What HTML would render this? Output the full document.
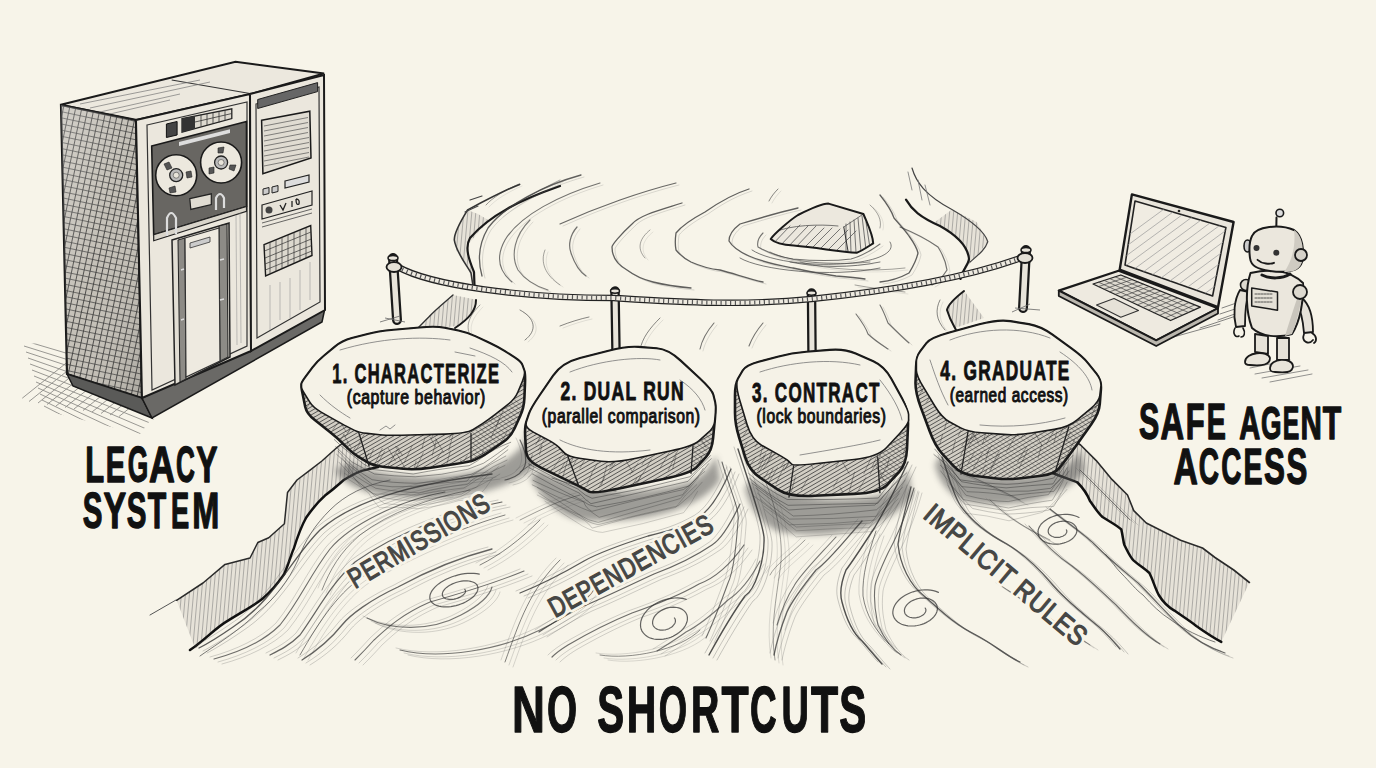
<!DOCTYPE html>
<html><head><meta charset="utf-8">
<style>
html,body{margin:0;padding:0;background:#f7f4e9;width:1376px;height:768px;overflow:hidden}
svg{display:block}
.t{font-family:"Liberation Sans",sans-serif;font-weight:bold;fill:#111;stroke:#111;stroke-width:1.2;stroke-linejoin:round}
.s{font-family:"Liberation Sans",sans-serif;font-weight:bold;fill:#111;stroke:#111;stroke-width:0.9;stroke-linejoin:round}
.s2{font-family:"Liberation Sans",sans-serif;font-weight:normal;fill:#111;stroke:#111;stroke-width:1.0;stroke-linejoin:round}
.ln{fill:none;stroke:#222;stroke-linecap:round;stroke-linejoin:round}
</style></head><body>
<svg width="1376" height="768" viewBox="0 0 1376 768">
<defs>
<pattern id="hd" width="3.5" height="3.5" patternUnits="userSpaceOnUse" patternTransform="rotate(60)">
<rect width="3.5" height="3.5" fill="#d2cec4"/><line x1="0" y1="0" x2="0" y2="3.5" stroke="#383838" stroke-width="1.4"/></pattern>
<pattern id="hx" width="6" height="6" patternUnits="userSpaceOnUse" patternTransform="rotate(12)">
<rect width="6" height="6" fill="#c4c0b7"/><line x1="0" y1="0" x2="0" y2="6" stroke="#2e2e2e" stroke-width="1.6"/><line x1="0" y1="0" x2="6" y2="0" stroke="#3a3a3a" stroke-width="1.4"/></pattern>
<pattern id="hv" width="4" height="4" patternUnits="userSpaceOnUse" patternTransform="rotate(5)">
<rect width="4" height="4" fill="#e6e2d8"/><line x1="0" y1="0" x2="0" y2="4" stroke="#666" stroke-width="0.9"/></pattern>
<filter id="blur3" x="-20%" y="-20%" width="140%" height="140%"><feGaussianBlur stdDeviation="3"/></filter>
<pattern id="hd2" width="4" height="4" patternUnits="userSpaceOnUse" patternTransform="rotate(-50)">
<line x1="0" y1="0" x2="0" y2="4" stroke="#333" stroke-width="1" stroke-opacity="0.7"/></pattern>
<clipPath id="sc0"><path d="M301.5,384.2 Q301.5,382.5 305.8,376.7 L312.7,367.5 Q317.0,361.7 324.0,355.9 L335.0,346.8 Q342.0,341.0 351.9,338.3 L367.6,334.2 Q377.5,331.5 393.8,330.0 L419.5,327.7 Q435.8,326.2 444.5,328.0 L458.3,330.7 Q467.0,332.5 475.7,336.6 L489.3,342.9 Q498.0,347.0 504.4,351.1 L514.6,357.6 Q521.0,361.7 522.2,365.1 L524.2,370.6 Q525.4,374.0 525.0,383.4 L524.4,398.1 Q524.0,407.5 520.3,415.7 L514.5,428.5 Q510.8,436.7 503.2,441.9 L491.3,450.2 Q483.7,455.4 480.1,457.2 L474.6,459.9 Q471.0,461.7 455.3,464.0 L430.7,467.7 Q415.0,470.0 403.2,468.8 L384.8,467.0 Q373.0,465.8 367.3,462.2 L358.2,456.6 Q352.5,453.0 347.8,448.4 L340.5,441.3 Q335.8,436.7 327.7,430.3 L314.8,420.1 Q306.7,413.7 305.2,406.7 L303.0,395.7 Q301.5,388.7 301.5,387.0 Z"/></clipPath>
<clipPath id="sc1"><path d="M553.3,375.8 Q562.0,363.0 580.1,358.3 L608.6,350.9 Q626.7,346.2 638.3,347.1 L656.7,348.5 Q668.3,349.4 680.5,360.8 L699.8,378.6 Q712.0,390.0 713.1,394.7 L714.9,402.0 Q716.0,406.7 714.9,418.9 L713.1,438.2 Q712.0,450.4 706.1,456.8 L696.9,466.9 Q691.0,473.3 663.6,479.1 L620.4,488.2 Q593.0,494.0 589.0,491.7 L582.7,488.1 Q578.7,485.8 564.1,478.8 L541.3,467.8 Q526.7,460.8 526.1,451.5 L525.2,436.8 Q524.6,427.5 526.3,422.2 L529.1,414.0 Q530.8,408.7 539.5,395.9 Z"/></clipPath>
<clipPath id="sc2"><path d="M742.9,370.7 Q746.0,365.4 758.7,362.0 L778.7,356.7 Q791.4,353.3 806.3,352.0 L829.6,350.1 Q844.5,348.8 855.6,353.8 L873.2,361.5 Q884.3,366.5 891.1,378.9 L901.8,398.4 Q908.6,410.8 908.0,425.7 L907.0,449.0 Q906.4,463.9 899.0,472.0 L887.3,484.6 Q879.9,492.7 854.4,493.9 L814.5,495.8 Q789.0,497.0 777.9,489.6 L760.4,477.9 Q749.3,470.5 745.3,457.5 L739.0,437.0 Q735.0,424.0 735.0,412.9 L735.0,395.3 Q735.0,384.2 738.1,378.9 Z"/></clipPath>
<clipPath id="sc3"><path d="M926.6,343.3 Q930.5,338.0 949.5,332.8 L979.4,324.6 Q998.4,319.4 1010.2,321.4 L1028.8,324.4 Q1040.6,326.4 1052.4,334.9 L1071.0,348.4 Q1082.8,356.9 1088.0,363.5 L1096.3,373.7 Q1101.5,380.3 1100.9,389.5 L1099.8,403.8 Q1099.2,413.0 1091.3,424.2 L1078.9,441.8 Q1071.0,453.0 1066.4,458.9 L1059.2,468.1 Q1054.6,474.0 1041.5,475.7 L1020.9,478.2 Q1007.8,479.9 994.7,478.2 L974.1,475.7 Q961.0,474.0 953.7,466.1 L942.3,453.8 Q935.0,445.9 929.5,430.8 L920.7,407.1 Q915.2,392.0 915.5,382.2 L916.1,366.7 Q916.4,356.9 920.3,351.6 Z"/></clipPath>
<linearGradient id="spg" x1="0" y1="0" x2="1" y2="1"><stop offset="0" stop-color="#fff" stop-opacity="0.25"/><stop offset="0.5" stop-color="#fff" stop-opacity="0"/><stop offset="1" stop-color="#000" stop-opacity="0.12"/></linearGradient>
</defs>
<rect width="1376" height="768" fill="#f7f4e9"/>



<!-- BANKS -->
<g id="banks" stroke-linejoin="round" stroke-linecap="round">
 <!-- upper left cliff -->
 <path d="M467.6,209.9 L462,219.8 454.3,237.5 456.5,250.8 466.5,264 471,273 474.2,284 473,268.5 467.6,253 468.7,244 480,230 490,221 478,214Z" fill="url(#hv)" stroke="none"/>
 <path d="M519.6,184.4 C505,190 490,198 467.6,209.9 C462,219 454,232 454.3,240 C456,252 466,264 471,273 L473,286" fill="none" stroke="#333" stroke-width="1.6"/>
 <path d="M560,186 C520,200 490,215 470,238 C464,248 470,262 474,272 L474.5,286" fill="none" stroke="#1a1a1a" stroke-width="2.2"/>
 <path d="M470,200 L482,196 M465,212 L478,206" stroke="#444" stroke-width="1.2"/>
 <!-- lower left cliff above stone1 -->
 <path d="M475.3,299.5 L473,312.7 457.6,326 420,330 428.8,317 453,295Z" fill="url(#hv)" stroke="none"/>
 <path d="M453,295 C445,302 435,310 428.8,317 L418,328" fill="none" stroke="#333" stroke-width="1.4"/>
 <path d="M476,300 C476,310 470,318 455,328" fill="none" stroke="#1a1a1a" stroke-width="2"/>
 <!-- upper right cliff -->
 <path d="M951.9,209.5 L976.6,221.9 987.8,241.7 974.2,259 961.8,271.4 969,259 964.3,244 949.4,231.8 935,222Z" fill="url(#hv)" stroke="none"/>
 <path d="M906,199.6 C912,210 920,217 940,226 C958,236 968,248 969,259 C968,266 962,270 960.5,279" fill="none" stroke="#1a1a1a" stroke-width="2.2"/>
 <path d="M912,168 C916,182 925,195 951.9,209.5 C970,220 985,232 987.8,241.7 C985,250 978,255 970,262" fill="none" stroke="#444" stroke-width="1.2"/>
 <path d="M918,180 L922,200 M925,185 L930,205 M908,172 L912,190" stroke="#777" stroke-width="0.8"/>
 <!-- lower right cliff above stone 4 -->
 <path d="M964.3,291 L947,308.5 954.4,328.3 984,318Z" fill="url(#hv)" stroke="none"/>
 <path d="M964,291 C955,298 948,305 947,310 C950,320 954,326 956,330" fill="none" stroke="#1a1a1a" stroke-width="2"/>
 <!-- lower left bank (below stone 1) -->
 <path d="M176.6,600.3 L203,583 225,564.4 250,558 257.8,542.5 268.75,537.8 284.4,523.75 287.5,492.5 297,480 309.4,470.6 321.9,461 337.5,447 343.75,442.5 360,455 375,467.5 362.5,470.6 343.75,480 325,495.6 306.25,517.5 293.75,548.75 284.4,573.75 262.5,598.75 228,620.6 195.3,648.75Z" fill="url(#hv)" stroke="none"/>
 <path d="M176.6,600.3 L203,583 225,564.4 250,558 257.8,542.5 268.75,537.8 284.4,523.75 287.5,492.5 297,480 309.4,470.6 321.9,461 337.5,447 343.75,442.5" fill="none" stroke="#2a2a2a" stroke-width="1.5"/>
 <path d="M176,600 L150,615" fill="none" stroke="#555" stroke-width="1"/>
 <path d="M190,650 C205,640 215,628 228,620.6 C245,610 255,605 262.5,598.75 C275,588 280,580 284.4,573.75 C290,560 292,552 293.75,548.75 C298,535 302,525 306.25,517.5 C315,505 320,500 325,495.6 C335,488 340,483 343.75,480 C352,475 358,472 362.5,470.6 L378,467" fill="none" stroke="#111" stroke-width="2.5"/>
 <path d="M200,656 C220,642 240,630 258,612 C275,598 288,582 298,560 C305,540 315,525 330,510 C345,495 365,485 390,480" fill="none" stroke="#444" stroke-width="1" stroke-opacity="0.7"/>
 <!-- lower right bank (below stone 4) -->
 <path d="M1071.25,438.75 L1080.6,445 1096.25,460.6 1111.9,479.4 1127.5,495 1133.75,510.6 1146.25,523 1165,532.5 1180.6,540.3 1202.5,548 1215,557.5 1233.75,570 1249.4,582.5 1221.25,641.9 1196.25,626 1174.4,610.6 1158.75,595 1149.4,573 1133.75,560.6 1124.4,545 1121.25,529.4 1102.5,517 1090,501 1077.5,482.5 1052.5,473Z" fill="url(#hv)" stroke="none"/>
 <path d="M1071.25,438.75 L1080.6,445 1096.25,460.6 1111.9,479.4 1127.5,495 1133.75,510.6 1146.25,523 1165,532.5 1180.6,540.3 1202.5,548 1215,557.5 1233.75,570 1249.4,582.5" fill="none" stroke="#2a2a2a" stroke-width="1.6"/>
 <path d="M1052.5,473 C1065,478 1072,480 1077.5,482.5 C1085,490 1088,496 1090,501 C1095,508 1098,513 1102.5,517 C1112,523 1118,526 1121.25,529.4 C1123,536 1123,541 1124.4,545 C1128,552 1130,557 1133.75,560.6 C1140,566 1145,569 1149.4,573 C1153,580 1155,588 1158.75,595 C1163,602 1168,607 1174.4,610.6 C1182,616 1190,621 1196.25,626 C1205,632 1212,637 1221.25,641.9" fill="none" stroke="#111" stroke-width="2.5"/>
 <path d="M1105.6,554.4 C1112,562 1116,568 1121,573 C1130,582 1136,590 1143,595 C1152,605 1160,613 1171,620 C1185,630 1200,637 1215,642" fill="none" stroke="#444" stroke-width="1" stroke-opacity="0.7"/>
</g>

<!-- RIVER -->
<g id="river">
<g filter="url(#blur3)" fill="#555" opacity="0.55">
<path d="M350,462 C380,478 440,482 490,468 C520,455 530,440 525,425 L540,460 C520,490 450,505 380,495 C355,490 340,480 335,470Z"/>
<path d="M540,470 C570,490 620,500 690,482 C705,475 712,465 716,455 L720,480 C700,510 640,525 580,520 C555,515 540,495 530,478Z"/>
<path d="M752,478 C775,495 830,505 880,495 C895,490 905,478 908,468 L912,495 C890,530 830,540 780,532 C760,525 748,505 745,488Z"/>
<path d="M940,455 C960,475 1010,485 1060,470 C1070,465 1075,458 1080,450 L1085,470 C1060,505 1000,510 960,500 C945,490 938,478 935,465Z"/>
</g>
<path d="M334.3,439.6 Q341.2,446.6 352.6,455.3 Q363.6,465.1 373.1,469.5 Q393.7,471.7 413.2,474.0 Q444.0,468.1 469.1,465.7 Q477.9,461.0 482.3,457.4 Q494.4,448.4 510.7,442.3" fill="none" stroke="#333" stroke-width="0.9" stroke-opacity="0.55" stroke-linecap="round"/>
<path d="M335.7,446.8 Q343.4,453.8 351.7,461.8 Q364.9,469.4 374.6,474.0 Q393.5,476.2 415.3,476.8 Q441.7,475.4 467.7,469.3 Q477.1,465.7 483.6,463.2 Q498.8,453.1 508.2,445.8" fill="none" stroke="#333" stroke-width="0.9" stroke-opacity="0.51" stroke-linecap="round"/>
<path d="M337.9,451.0 Q347.3,461.2 352.6,466.0 Q362.2,474.1 372.1,479.7 Q391.8,483.0 416.8,483.3 Q444.9,481.7 471.3,474.3 Q478.9,470.7 482.6,468.4 Q494.6,460.4 507.9,449.8" fill="none" stroke="#333" stroke-width="0.9" stroke-opacity="0.47000000000000003" stroke-linecap="round"/>
<path d="M336.6,454.3 Q347.0,464.0 353.6,469.0 Q361.7,476.8 372.5,484.6 Q391.7,488.0 412.5,486.5 Q442.5,482.5 467.0,481.0 Q470.1,475.8 477.0,472.3 Q489.8,464.6 505.8,456.0" fill="none" stroke="#333" stroke-width="0.9" stroke-opacity="0.43000000000000005" stroke-linecap="round"/>
<path d="M342.6,458.1 Q350.3,468.4 353.5,474.7 Q364.0,481.5 375.8,488.3 Q395.1,491.7 419.1,492.8 Q440.5,487.0 467.1,484.5 Q472.0,478.7 480.4,475.2 Q492.7,465.9 507.0,460.1" fill="none" stroke="#333" stroke-width="0.9" stroke-opacity="0.39" stroke-linecap="round"/>
<path d="M338.8,462.1 Q346.7,470.9 355.0,479.0 Q361.7,485.0 373.3,494.0 Q393.9,493.9 416.4,495.1 Q441.9,490.3 463.5,487.9 Q467.0,486.7 476.2,480.0 Q490.7,471.5 504.9,465.5" fill="none" stroke="#333" stroke-width="0.9" stroke-opacity="0.35000000000000003" stroke-linecap="round"/>
<path d="M345.6,466.1 Q354.9,478.9 360.4,485.9 Q373.4,493.9 382.2,497.8 Q399.6,500.8 413.2,500.5 Q435.7,497.9 461.6,494.1 Q468.2,488.7 476.6,487.1 Q484.7,476.4 498.4,466.9" fill="none" stroke="#333" stroke-width="0.9" stroke-opacity="0.31000000000000005" stroke-linecap="round"/>
<path d="M344.5,473.3 Q357.6,481.2 366.6,488.3 Q376.4,497.9 384.4,503.5 Q400.1,505.5 420.7,505.0 Q443.4,502.6 461.1,496.4 Q468.0,493.3 472.0,489.3 Q483.9,483.7 499.8,474.1" fill="none" stroke="#333" stroke-width="0.9" stroke-opacity="0.27" stroke-linecap="round"/>
<path d="M346.7,478.2 Q360.4,486.7 368.3,492.6 Q373.0,500.9 379.5,507.8 Q396.7,506.3 418.4,508.7 Q441.4,505.9 458.6,500.6 Q468.7,501.1 478.4,496.2 Q485.1,489.6 492.5,478.3" fill="none" stroke="#333" stroke-width="0.9" stroke-opacity="0.23000000000000004" stroke-linecap="round"/>
<path d="M528.3,463.8 Q552.3,476.8 578.0,489.2 Q585.5,496.3 592.0,498.3 Q640.5,490.1 690.0,476.7 Q700.3,466.8 710.5,455.6" fill="none" stroke="#333" stroke-width="0.9" stroke-opacity="0.55" stroke-linecap="round"/>
<path d="M529.0,467.6 Q553.2,481.0 579.5,493.2 Q585.6,500.4 591.0,503.7 Q637.1,493.3 687.9,481.4 Q698.1,469.4 711.3,458.7" fill="none" stroke="#333" stroke-width="0.9" stroke-opacity="0.51" stroke-linecap="round"/>
<path d="M532.5,474.0 Q556.5,487.7 581.1,500.0 Q588.7,506.1 596.7,506.8 Q644.0,498.8 688.9,486.0 Q701.3,474.2 708.5,463.8" fill="none" stroke="#333" stroke-width="0.9" stroke-opacity="0.47000000000000003" stroke-linecap="round"/>
<path d="M533.0,480.3 Q560.1,493.6 583.8,502.0 Q585.8,508.2 591.9,511.3 Q638.7,499.1 683.6,489.5 Q695.8,481.7 703.4,468.2" fill="none" stroke="#333" stroke-width="0.9" stroke-opacity="0.43000000000000005" stroke-linecap="round"/>
<path d="M532.2,484.8 Q555.0,496.0 581.5,507.9 Q591.6,510.7 599.1,517.3 Q641.2,506.2 682.6,494.7 Q690.8,482.7 704.8,471.4" fill="none" stroke="#333" stroke-width="0.9" stroke-opacity="0.39" stroke-linecap="round"/>
<path d="M537.3,487.5 Q556.8,499.6 579.0,514.4 Q588.1,521.0 598.2,522.4 Q641.1,509.8 680.2,498.6 Q687.3,490.7 698.5,477.6" fill="none" stroke="#333" stroke-width="0.9" stroke-opacity="0.35000000000000003" stroke-linecap="round"/>
<path d="M538.8,492.8 Q556.8,506.3 579.8,515.2 Q586.3,522.3 598.0,524.7 Q637.8,514.9 678.2,505.8 Q690.5,496.6 702.2,482.2" fill="none" stroke="#333" stroke-width="0.9" stroke-opacity="0.31000000000000005" stroke-linecap="round"/>
<path d="M537.2,495.0 Q562.5,507.2 584.7,520.5 Q588.4,523.2 592.2,528.1 Q633.1,515.8 675.9,507.3 Q684.8,494.1 696.7,484.7" fill="none" stroke="#333" stroke-width="0.9" stroke-opacity="0.27" stroke-linecap="round"/>
<path d="M544.9,501.2 Q563.0,514.1 582.4,525.9 Q593.6,532.1 602.6,532.4 Q642.2,524.7 683.6,512.7 Q691.8,503.2 697.6,491.3" fill="none" stroke="#333" stroke-width="0.9" stroke-opacity="0.23000000000000004" stroke-linecap="round"/>
<path d="M748.6,473.4 Q765.4,488.7 787.2,499.5 Q835.0,500.1 878.3,498.0 Q890.3,481.5 905.0,466.7" fill="none" stroke="#333" stroke-width="0.9" stroke-opacity="0.55" stroke-linecap="round"/>
<path d="M749.6,478.3 Q767.3,494.6 788.1,505.3 Q831.8,504.1 877.8,503.3 Q889.4,487.9 906.9,472.7" fill="none" stroke="#333" stroke-width="0.9" stroke-opacity="0.51" stroke-linecap="round"/>
<path d="M752.0,483.0 Q767.7,494.6 788.8,510.0 Q830.7,506.7 874.9,505.1 Q888.2,491.5 900.4,476.6" fill="none" stroke="#333" stroke-width="0.9" stroke-opacity="0.47000000000000003" stroke-linecap="round"/>
<path d="M755.8,488.1 Q775.8,503.3 793.2,516.0 Q832.0,515.1 876.4,509.8 Q893.1,496.1 905.1,480.1" fill="none" stroke="#333" stroke-width="0.9" stroke-opacity="0.43000000000000005" stroke-linecap="round"/>
<path d="M757.5,493.2 Q774.0,508.6 789.5,519.1 Q833.9,519.2 876.1,516.3 Q887.7,500.0 902.5,487.3" fill="none" stroke="#333" stroke-width="0.9" stroke-opacity="0.39" stroke-linecap="round"/>
<path d="M753.8,495.9 Q771.6,508.4 789.5,524.8 Q834.3,524.2 875.5,520.0 Q887.5,506.3 899.5,491.2" fill="none" stroke="#333" stroke-width="0.9" stroke-opacity="0.35000000000000003" stroke-linecap="round"/>
<path d="M760.5,499.3 Q779.9,516.0 796.4,527.0 Q833.2,524.9 870.0,523.1 Q884.5,509.9 899.3,493.8" fill="none" stroke="#333" stroke-width="0.9" stroke-opacity="0.31000000000000005" stroke-linecap="round"/>
<path d="M763.5,506.0 Q780.4,516.5 796.5,530.8 Q830.4,528.5 869.5,527.5 Q884.9,514.6 898.2,498.7" fill="none" stroke="#333" stroke-width="0.9" stroke-opacity="0.27" stroke-linecap="round"/>
<path d="M764.4,509.2 Q783.2,525.7 796.2,536.9 Q831.2,534.5 872.1,531.5 Q887.4,520.0 898.8,502.8" fill="none" stroke="#333" stroke-width="0.9" stroke-opacity="0.23000000000000004" stroke-linecap="round"/>
<path d="M934.8,449.1 Q949.2,465.0 959.8,479.8 Q985.7,483.6 1006.8,484.3 Q1028.6,483.7 1053.6,478.1 Q1063.1,464.9 1072.8,455.5" fill="none" stroke="#333" stroke-width="0.9" stroke-opacity="0.55" stroke-linecap="round"/>
<path d="M933.9,454.5 Q949.8,466.7 961.6,481.7 Q986.4,486.4 1006.1,487.9 Q1032.0,485.3 1053.0,483.9 Q1059.3,473.1 1067.1,462.5" fill="none" stroke="#333" stroke-width="0.9" stroke-opacity="0.51" stroke-linecap="round"/>
<path d="M940.9,459.4 Q949.9,472.4 961.9,486.7 Q984.3,487.9 1006.5,491.2 Q1027.8,492.5 1050.6,488.3 Q1061.1,480.1 1067.1,467.7" fill="none" stroke="#333" stroke-width="0.9" stroke-opacity="0.47000000000000003" stroke-linecap="round"/>
<path d="M940.3,465.2 Q952.4,476.7 967.0,491.7 Q990.8,492.3 1009.6,495.7 Q1031.5,493.2 1053.8,491.3 Q1060.2,482.9 1069.0,471.1" fill="none" stroke="#333" stroke-width="0.9" stroke-opacity="0.43000000000000005" stroke-linecap="round"/>
<path d="M944.5,467.0 Q955.2,480.2 965.9,495.2 Q989.5,501.4 1008.3,501.6 Q1028.1,496.8 1048.4,494.6 Q1054.1,484.1 1063.4,476.6" fill="none" stroke="#333" stroke-width="0.9" stroke-opacity="0.39" stroke-linecap="round"/>
<path d="M940.6,470.9 Q951.1,484.9 963.1,499.5 Q983.1,503.2 1008.4,508.0 Q1033.2,502.7 1052.3,500.2 Q1058.0,491.0 1063.7,479.6" fill="none" stroke="#333" stroke-width="0.9" stroke-opacity="0.35000000000000003" stroke-linecap="round"/>
<path d="M947.3,475.9 Q953.0,491.5 964.4,504.0 Q988.1,507.8 1007.0,510.8 Q1030.9,506.6 1053.8,506.4 Q1059.8,496.9 1067.1,482.1" fill="none" stroke="#333" stroke-width="0.9" stroke-opacity="0.31000000000000005" stroke-linecap="round"/>
<path d="M948.7,482.9 Q961.6,497.5 972.6,508.5 Q988.0,512.1 1003.9,514.1 Q1023.5,514.1 1048.7,510.2 Q1056.2,502.4 1066.9,489.4" fill="none" stroke="#333" stroke-width="0.9" stroke-opacity="0.27" stroke-linecap="round"/>
<path d="M947.8,485.2 Q955.1,498.2 963.8,513.0 Q987.0,515.0 1009.0,520.8 Q1024.6,516.8 1042.5,512.3 Q1054.4,504.0 1060.7,493.3" fill="none" stroke="#333" stroke-width="0.9" stroke-opacity="0.23000000000000004" stroke-linecap="round"/>
<path d="M519,184 C505,190 492,198 486,205" fill="none" stroke="#3a3a3a" stroke-width="1.0" stroke-opacity="0.5" stroke-linecap="round"/>
<path d="M522.0,186.0 C508.0,192.0 495.0,200.0 489.0,207.0" fill="none" stroke="#666" stroke-width="0.7" stroke-opacity="0.2" stroke-linecap="round"/>
<path d="M581,175 C545,185 505,205 488,228 C478,245 478,262 482,276" fill="none" stroke="#3a3a3a" stroke-width="1.3" stroke-opacity="0.8" stroke-linecap="round"/>
<path d="M584.0,177.0 C548.0,187.0 508.0,207.0 491.0,230.0 C481.0,247.0 481.0,264.0 485.0,278.0" fill="none" stroke="#666" stroke-width="0.7" stroke-opacity="0.32000000000000006" stroke-linecap="round"/>
<path d="M600,183 C560,195 520,215 505,240 C495,258 500,272 512,282" fill="none" stroke="#3a3a3a" stroke-width="1.1" stroke-opacity="0.7" stroke-linecap="round"/>
<path d="M603.0,185.0 C563.0,197.0 523.0,217.0 508.0,242.0 C498.0,260.0 503.0,274.0 515.0,284.0" fill="none" stroke="#666" stroke-width="0.7" stroke-opacity="0.27999999999999997" stroke-linecap="round"/>
<path d="M560,180 C540,190 520,200 500,215" fill="none" stroke="#3a3a3a" stroke-width="0.9" stroke-opacity="0.5" stroke-linecap="round"/>
<path d="M563.0,182.0 C543.0,192.0 523.0,202.0 503.0,217.0" fill="none" stroke="#666" stroke-width="0.7" stroke-opacity="0.2" stroke-linecap="round"/>
<path d="M560,224 C580,215 600,207 620,200 C640,193 660,187 676,183" fill="none" stroke="#3a3a3a" stroke-width="1.2" stroke-opacity="0.75" stroke-linecap="round"/>
<path d="M563.0,226.0 C583.0,217.0 603.0,209.0 623.0,202.0 C643.0,195.0 663.0,189.0 679.0,185.0" fill="none" stroke="#666" stroke-width="0.7" stroke-opacity="0.30000000000000004" stroke-linecap="round"/>
<path d="M577,227 C570,235 568,245 571,253 C575,265 580,272 586,276" fill="none" stroke="#3a3a3a" stroke-width="1.2" stroke-opacity="0.7" stroke-linecap="round"/>
<path d="M580.0,229.0 C573.0,237.0 571.0,247.0 574.0,255.0 C578.0,267.0 583.0,274.0 589.0,278.0" fill="none" stroke="#666" stroke-width="0.7" stroke-opacity="0.27999999999999997" stroke-linecap="round"/>
<path d="M530,220 C515,235 510,255 518,270 C525,280 535,286 548,290" fill="none" stroke="#3a3a3a" stroke-width="1.1" stroke-opacity="0.65" stroke-linecap="round"/>
<path d="M533.0,222.0 C518.0,237.0 513.0,257.0 521.0,272.0 C528.0,282.0 538.0,288.0 551.0,292.0" fill="none" stroke="#666" stroke-width="0.7" stroke-opacity="0.26" stroke-linecap="round"/>
<path d="M545,250 C540,262 545,275 560,285" fill="none" stroke="#3a3a3a" stroke-width="0.9" stroke-opacity="0.5" stroke-linecap="round"/>
<path d="M548.0,252.0 C543.0,264.0 548.0,277.0 563.0,287.0" fill="none" stroke="#666" stroke-width="0.7" stroke-opacity="0.2" stroke-linecap="round"/>
<path d="M682,203 C660,210 640,215 632,224 C620,235 612,245 612,247 C612,258 618,265 627,270 C635,276 645,280 653,282 C665,285 680,287 691,288" fill="none" stroke="#3a3a3a" stroke-width="1.3" stroke-opacity="0.8" stroke-linecap="round"/>
<path d="M685.0,205.0 C663.0,212.0 643.0,217.0 635.0,226.0 C623.0,237.0 615.0,247.0 615.0,249.0 C615.0,260.0 621.0,267.0 630.0,272.0 C638.0,278.0 648.0,282.0 656.0,284.0 C668.0,287.0 683.0,289.0 694.0,290.0" fill="none" stroke="#666" stroke-width="0.7" stroke-opacity="0.32000000000000006" stroke-linecap="round"/>
<path d="M749,189 C730,195 715,205 705,212 C690,220 680,228 676,233 C675,240 675,245 676,250 C680,255 685,259 691,262 C700,266 710,269 720,270 C735,274 750,279 763,282" fill="none" stroke="#3a3a3a" stroke-width="1.3" stroke-opacity="0.8" stroke-linecap="round"/>
<path d="M752.0,191.0 C733.0,197.0 718.0,207.0 708.0,214.0 C693.0,222.0 683.0,230.0 679.0,235.0 C678.0,242.0 678.0,247.0 679.0,252.0 C683.0,257.0 688.0,261.0 694.0,264.0 C703.0,268.0 713.0,271.0 723.0,272.0 C738.0,276.0 753.0,281.0 766.0,284.0" fill="none" stroke="#666" stroke-width="0.7" stroke-opacity="0.32000000000000006" stroke-linecap="round"/>
<path d="M778,189 C774,193 771,197 769,201" fill="none" stroke="#3a3a3a" stroke-width="1.0" stroke-opacity="0.6" stroke-linecap="round"/>
<path d="M781.0,191.0 C777.0,195.0 774.0,199.0 772.0,203.0" fill="none" stroke="#666" stroke-width="0.7" stroke-opacity="0.24" stroke-linecap="round"/>
<path d="M798,208 C780,212 760,218 740,224 C732,230 729,236 729,241 C733,248 740,252 749,256 C762,262 778,265 793,268 C810,272 822,274 836,276 C848,277 858,278 865,279" fill="none" stroke="#3a3a3a" stroke-width="1.3" stroke-opacity="0.8" stroke-linecap="round"/>
<path d="M801.0,210.0 C783.0,214.0 763.0,220.0 743.0,226.0 C735.0,232.0 732.0,238.0 732.0,243.0 C736.0,250.0 743.0,254.0 752.0,258.0 C765.0,264.0 781.0,267.0 796.0,270.0 C813.0,274.0 825.0,276.0 839.0,278.0 C851.0,279.0 861.0,280.0 868.0,281.0" fill="none" stroke="#666" stroke-width="0.7" stroke-opacity="0.32000000000000006" stroke-linecap="round"/>
<path d="M763,233 C758,238 757,243 758,247 C768,253 780,257 793,259 C815,261 835,261 851,259 C862,256 872,250 880,244" fill="none" stroke="#3a3a3a" stroke-width="1.1" stroke-opacity="0.7" stroke-linecap="round"/>
<path d="M766.0,235.0 C761.0,240.0 760.0,245.0 761.0,249.0 C771.0,255.0 783.0,259.0 796.0,261.0 C818.0,263.0 838.0,263.0 854.0,261.0 C865.0,258.0 875.0,252.0 883.0,246.0" fill="none" stroke="#666" stroke-width="0.7" stroke-opacity="0.27999999999999997" stroke-linecap="round"/>
<path d="M770,252 C790,262 830,266 870,262" fill="none" stroke="#3a3a3a" stroke-width="1.0" stroke-opacity="0.55" stroke-linecap="round"/>
<path d="M773.0,254.0 C793.0,264.0 833.0,268.0 873.0,264.0" fill="none" stroke="#666" stroke-width="0.7" stroke-opacity="0.22000000000000003" stroke-linecap="round"/>
<path d="M800,262 C830,270 870,272 905,268" fill="none" stroke="#3a3a3a" stroke-width="0.9" stroke-opacity="0.5" stroke-linecap="round"/>
<path d="M803.0,264.0 C833.0,272.0 873.0,274.0 908.0,270.0" fill="none" stroke="#666" stroke-width="0.7" stroke-opacity="0.2" stroke-linecap="round"/>
<path d="M650,230 C640,238 636,248 645,258" fill="none" stroke="#3a3a3a" stroke-width="0.9" stroke-opacity="0.5" stroke-linecap="round"/>
<path d="M653.0,232.0 C643.0,240.0 639.0,250.0 648.0,260.0" fill="none" stroke="#666" stroke-width="0.7" stroke-opacity="0.2" stroke-linecap="round"/>
<path d="M880,195 C888,205 892,212 894,218 C900,225 905,230 909,236 C914,243 917,248 918,253 C916,262 912,268 909,273 C900,278 890,281 880,282" fill="none" stroke="#3a3a3a" stroke-width="1.3" stroke-opacity="0.8" stroke-linecap="round"/>
<path d="M883.0,197.0 C891.0,207.0 895.0,214.0 897.0,220.0 C903.0,227.0 908.0,232.0 912.0,238.0 C917.0,245.0 920.0,250.0 921.0,255.0 C919.0,264.0 915.0,270.0 912.0,275.0 C903.0,280.0 893.0,283.0 883.0,284.0" fill="none" stroke="#666" stroke-width="0.7" stroke-opacity="0.32000000000000006" stroke-linecap="round"/>
<path d="M900,227 C915,233 928,240 938,247 C943,255 946,262 947,270 C942,278 938,282 932,285" fill="none" stroke="#3a3a3a" stroke-width="1.2" stroke-opacity="0.7" stroke-linecap="round"/>
<path d="M903.0,229.0 C918.0,235.0 931.0,242.0 941.0,249.0 C946.0,257.0 949.0,264.0 950.0,272.0 C945.0,280.0 941.0,284.0 935.0,287.0" fill="none" stroke="#666" stroke-width="0.7" stroke-opacity="0.27999999999999997" stroke-linecap="round"/>
<path d="M870,205 C878,212 882,220 880,228" fill="none" stroke="#3a3a3a" stroke-width="0.9" stroke-opacity="0.5" stroke-linecap="round"/>
<path d="M873.0,207.0 C881.0,214.0 885.0,222.0 883.0,230.0" fill="none" stroke="#666" stroke-width="0.7" stroke-opacity="0.2" stroke-linecap="round"/>
<path d="M855,285 C870,288 890,290 905,292" fill="none" stroke="#3a3a3a" stroke-width="0.9" stroke-opacity="0.5" stroke-linecap="round"/>
<path d="M858.0,287.0 C873.0,290.0 893.0,292.0 908.0,294.0" fill="none" stroke="#666" stroke-width="0.7" stroke-opacity="0.2" stroke-linecap="round"/>
<path d="M714,323 C708,330 702,340 700,349" fill="none" stroke="#3a3a3a" stroke-width="1.1" stroke-opacity="0.7" stroke-linecap="round"/>
<path d="M717.0,325.0 C711.0,332.0 705.0,342.0 703.0,351.0" fill="none" stroke="#666" stroke-width="0.7" stroke-opacity="0.27999999999999997" stroke-linecap="round"/>
<path d="M763,323 C757,330 752,338 749,346" fill="none" stroke="#3a3a3a" stroke-width="1.1" stroke-opacity="0.7" stroke-linecap="round"/>
<path d="M766.0,325.0 C760.0,332.0 755.0,340.0 752.0,348.0" fill="none" stroke="#666" stroke-width="0.7" stroke-opacity="0.27999999999999997" stroke-linecap="round"/>
<path d="M856,314 C862,322 866,328 868,334 C874,340 882,345 888,349" fill="none" stroke="#3a3a3a" stroke-width="1.1" stroke-opacity="0.7" stroke-linecap="round"/>
<path d="M859.0,316.0 C865.0,324.0 869.0,330.0 871.0,336.0 C877.0,342.0 885.0,347.0 891.0,351.0" fill="none" stroke="#666" stroke-width="0.7" stroke-opacity="0.27999999999999997" stroke-linecap="round"/>
<path d="M880,305 C884,312 886,318 888,323 C895,330 902,337 909,343" fill="none" stroke="#3a3a3a" stroke-width="1.1" stroke-opacity="0.7" stroke-linecap="round"/>
<path d="M883.0,307.0 C887.0,314.0 889.0,320.0 891.0,325.0 C898.0,332.0 905.0,339.0 912.0,345.0" fill="none" stroke="#666" stroke-width="0.7" stroke-opacity="0.27999999999999997" stroke-linecap="round"/>
<path d="M560,326 C570,322 580,319 589,317" fill="none" stroke="#3a3a3a" stroke-width="1.0" stroke-opacity="0.6" stroke-linecap="round"/>
<path d="M563.0,328.0 C573.0,324.0 583.0,321.0 592.0,319.0" fill="none" stroke="#666" stroke-width="0.7" stroke-opacity="0.24" stroke-linecap="round"/>
<path d="M520,310 C535,318 538,330 525,340" fill="none" stroke="#3a3a3a" stroke-width="1.0" stroke-opacity="0.6" stroke-linecap="round"/>
<path d="M523.0,312.0 C538.0,320.0 541.0,332.0 528.0,342.0" fill="none" stroke="#666" stroke-width="0.7" stroke-opacity="0.24" stroke-linecap="round"/>
<path d="M660,318 C650,328 642,338 640,350" fill="none" stroke="#3a3a3a" stroke-width="1.0" stroke-opacity="0.6" stroke-linecap="round"/>
<path d="M663.0,320.0 C653.0,330.0 645.0,340.0 643.0,352.0" fill="none" stroke="#666" stroke-width="0.7" stroke-opacity="0.24" stroke-linecap="round"/>
<path d="M940,300 C935,310 936,320 945,330" fill="none" stroke="#3a3a3a" stroke-width="1.0" stroke-opacity="0.6" stroke-linecap="round"/>
<path d="M943.0,302.0 C938.0,312.0 939.0,322.0 948.0,332.0" fill="none" stroke="#666" stroke-width="0.7" stroke-opacity="0.24" stroke-linecap="round"/>
<path d="M480,305 C470,315 465,325 470,335" fill="none" stroke="#3a3a3a" stroke-width="0.9" stroke-opacity="0.5" stroke-linecap="round"/>
<path d="M483.0,307.0 C473.0,317.0 468.0,327.0 473.0,337.0" fill="none" stroke="#666" stroke-width="0.7" stroke-opacity="0.2" stroke-linecap="round"/>
<path d="M492,474 C430,482 360,495 320,530 C290,560 275,600 233,627 C220,636 205,645 199,648" fill="none" stroke="#333" stroke-width="1.3" stroke-opacity="0.8" stroke-linecap="round"/>
<path d="M496.0,477.0 C434.0,485.0 364.0,498.0 324.0,533.0 C294.0,563.0 279.0,603.0 237.0,630.0 C224.0,639.0 209.0,648.0 203.0,651.0" fill="none" stroke="#555" stroke-width="0.8" stroke-opacity="0.36000000000000004" stroke-linecap="round"/>
<path d="M488.0,472.0 C426.0,480.0 356.0,493.0 316.0,528.0 C286.0,558.0 271.0,598.0 229.0,625.0 C216.0,634.0 201.0,643.0 195.0,646.0" fill="none" stroke="#555" stroke-width="0.8" stroke-opacity="0.36000000000000004" stroke-linecap="round"/>
<path d="M500.0,479.0 C438.0,487.0 368.0,500.0 328.0,535.0 C298.0,565.0 283.0,605.0 241.0,632.0 C228.0,641.0 213.0,650.0 207.0,653.0" fill="none" stroke="#555" stroke-width="0.8" stroke-opacity="0.36000000000000004" stroke-linecap="round"/>
<path d="M445,492 C400,500 350,525 330,549 C310,575 300,600 280,625 C265,640 240,652 214,659" fill="none" stroke="#333" stroke-width="1.1" stroke-opacity="0.7" stroke-linecap="round"/>
<path d="M449.0,495.0 C404.0,503.0 354.0,528.0 334.0,552.0 C314.0,578.0 304.0,603.0 284.0,628.0 C269.0,643.0 244.0,655.0 218.0,662.0" fill="none" stroke="#555" stroke-width="0.8" stroke-opacity="0.315" stroke-linecap="round"/>
<path d="M441.0,490.0 C396.0,498.0 346.0,523.0 326.0,547.0 C306.0,573.0 296.0,598.0 276.0,623.0 C261.0,638.0 236.0,650.0 210.0,657.0" fill="none" stroke="#555" stroke-width="0.8" stroke-opacity="0.315" stroke-linecap="round"/>
<path d="M453.0,497.0 C408.0,505.0 358.0,530.0 338.0,554.0 C318.0,580.0 308.0,605.0 288.0,630.0 C273.0,645.0 248.0,657.0 222.0,664.0" fill="none" stroke="#555" stroke-width="0.8" stroke-opacity="0.315" stroke-linecap="round"/>
<path d="M502,502 C460,510 400,530 355,562 C330,585 318,610 300,635 C290,645 280,650 270,655" fill="none" stroke="#333" stroke-width="1.2" stroke-opacity="0.75" stroke-linecap="round"/>
<path d="M506.0,505.0 C464.0,513.0 404.0,533.0 359.0,565.0 C334.0,588.0 322.0,613.0 304.0,638.0 C294.0,648.0 284.0,653.0 274.0,658.0" fill="none" stroke="#555" stroke-width="0.8" stroke-opacity="0.3375" stroke-linecap="round"/>
<path d="M498.0,500.0 C456.0,508.0 396.0,528.0 351.0,560.0 C326.0,583.0 314.0,608.0 296.0,633.0 C286.0,643.0 276.0,648.0 266.0,653.0" fill="none" stroke="#555" stroke-width="0.8" stroke-opacity="0.3375" stroke-linecap="round"/>
<path d="M510.0,507.0 C468.0,515.0 408.0,535.0 363.0,567.0 C338.0,590.0 326.0,615.0 308.0,640.0 C298.0,650.0 288.0,655.0 278.0,660.0" fill="none" stroke="#555" stroke-width="0.8" stroke-opacity="0.3375" stroke-linecap="round"/>
<path d="M505,515 C470,525 420,545 367,574 C340,590 320,620 300,655" fill="none" stroke="#333" stroke-width="1.0" stroke-opacity="0.6" stroke-linecap="round"/>
<path d="M509.0,518.0 C474.0,528.0 424.0,548.0 371.0,577.0 C344.0,593.0 324.0,623.0 304.0,658.0" fill="none" stroke="#555" stroke-width="0.8" stroke-opacity="0.27" stroke-linecap="round"/>
<path d="M501.0,513.0 C466.0,523.0 416.0,543.0 363.0,572.0 C336.0,588.0 316.0,618.0 296.0,653.0" fill="none" stroke="#555" stroke-width="0.8" stroke-opacity="0.27" stroke-linecap="round"/>
<path d="M513.0,520.0 C478.0,530.0 428.0,550.0 375.0,579.0 C348.0,595.0 328.0,625.0 308.0,660.0" fill="none" stroke="#555" stroke-width="0.8" stroke-opacity="0.27" stroke-linecap="round"/>
<path d="M470,490 C430,498 390,512 360,535 C340,552 330,570 322,590" fill="none" stroke="#333" stroke-width="1.0" stroke-opacity="0.55" stroke-linecap="round"/>
<path d="M474.0,493.0 C434.0,501.0 394.0,515.0 364.0,538.0 C344.0,555.0 334.0,573.0 326.0,593.0" fill="none" stroke="#555" stroke-width="0.8" stroke-opacity="0.24750000000000003" stroke-linecap="round"/>
<path d="M466.0,488.0 C426.0,496.0 386.0,510.0 356.0,533.0 C336.0,550.0 326.0,568.0 318.0,588.0" fill="none" stroke="#555" stroke-width="0.8" stroke-opacity="0.24750000000000003" stroke-linecap="round"/>
<path d="M478.0,495.0 C438.0,503.0 398.0,517.0 368.0,540.0 C348.0,557.0 338.0,575.0 330.0,595.0" fill="none" stroke="#555" stroke-width="0.8" stroke-opacity="0.24750000000000003" stroke-linecap="round"/>
<path d="M492,549 C450,560 420,575 398,587 C370,600 350,615 342,625 C330,640 318,650 302,660" fill="none" stroke="#333" stroke-width="1.3" stroke-opacity="0.75" stroke-linecap="round"/>
<path d="M496.0,552.0 C454.0,563.0 424.0,578.0 402.0,590.0 C374.0,603.0 354.0,618.0 346.0,628.0 C334.0,643.0 322.0,653.0 306.0,663.0" fill="none" stroke="#555" stroke-width="0.8" stroke-opacity="0.3375" stroke-linecap="round"/>
<path d="M488.0,547.0 C446.0,558.0 416.0,573.0 394.0,585.0 C366.0,598.0 346.0,613.0 338.0,623.0 C326.0,638.0 314.0,648.0 298.0,658.0" fill="none" stroke="#555" stroke-width="0.8" stroke-opacity="0.3375" stroke-linecap="round"/>
<path d="M500.0,554.0 C458.0,565.0 428.0,580.0 406.0,592.0 C378.0,605.0 358.0,620.0 350.0,630.0 C338.0,645.0 326.0,655.0 310.0,665.0" fill="none" stroke="#555" stroke-width="0.8" stroke-opacity="0.3375" stroke-linecap="round"/>
<path d="M524,571 C490,585 455,595 430,602 C400,615 385,630 374,640 C365,650 360,655 355,660" fill="none" stroke="#333" stroke-width="1.1" stroke-opacity="0.7" stroke-linecap="round"/>
<path d="M528.0,574.0 C494.0,588.0 459.0,598.0 434.0,605.0 C404.0,618.0 389.0,633.0 378.0,643.0 C369.0,653.0 364.0,658.0 359.0,663.0" fill="none" stroke="#555" stroke-width="0.8" stroke-opacity="0.315" stroke-linecap="round"/>
<path d="M520.0,569.0 C486.0,583.0 451.0,593.0 426.0,600.0 C396.0,613.0 381.0,628.0 370.0,638.0 C361.0,648.0 356.0,653.0 351.0,658.0" fill="none" stroke="#555" stroke-width="0.8" stroke-opacity="0.315" stroke-linecap="round"/>
<path d="M532.0,576.0 C498.0,590.0 463.0,600.0 438.0,607.0 C408.0,620.0 393.0,635.0 382.0,645.0 C373.0,655.0 368.0,660.0 363.0,665.0" fill="none" stroke="#555" stroke-width="0.8" stroke-opacity="0.315" stroke-linecap="round"/>
<path d="M540,520 C520,540 500,555 480,565" fill="none" stroke="#333" stroke-width="1.0" stroke-opacity="0.6" stroke-linecap="round"/>
<path d="M544.0,523.0 C524.0,543.0 504.0,558.0 484.0,568.0" fill="none" stroke="#555" stroke-width="0.8" stroke-opacity="0.27" stroke-linecap="round"/>
<path d="M536.0,518.0 C516.0,538.0 496.0,553.0 476.0,563.0" fill="none" stroke="#555" stroke-width="0.8" stroke-opacity="0.27" stroke-linecap="round"/>
<path d="M548.0,525.0 C528.0,545.0 508.0,560.0 488.0,570.0" fill="none" stroke="#555" stroke-width="0.8" stroke-opacity="0.27" stroke-linecap="round"/>
<path d="M367,618 C390,630 430,632 461,615 C480,605 490,595 492,587" fill="none" stroke="#333" stroke-width="1.1" stroke-opacity="0.65" stroke-linecap="round"/>
<path d="M371.0,621.0 C394.0,633.0 434.0,635.0 465.0,618.0 C484.0,608.0 494.0,598.0 496.0,590.0" fill="none" stroke="#555" stroke-width="0.8" stroke-opacity="0.29250000000000004" stroke-linecap="round"/>
<path d="M363.0,616.0 C386.0,628.0 426.0,630.0 457.0,613.0 C476.0,603.0 486.0,593.0 488.0,585.0" fill="none" stroke="#555" stroke-width="0.8" stroke-opacity="0.29250000000000004" stroke-linecap="round"/>
<path d="M375.0,623.0 C398.0,635.0 438.0,637.0 469.0,620.0 C488.0,610.0 498.0,600.0 500.0,592.0" fill="none" stroke="#555" stroke-width="0.8" stroke-opacity="0.29250000000000004" stroke-linecap="round"/>
<path d="M400,650 C440,660 500,650 540,630 C570,615 590,600 600,580" fill="none" stroke="#333" stroke-width="1.1" stroke-opacity="0.65" stroke-linecap="round"/>
<path d="M404.0,653.0 C444.0,663.0 504.0,653.0 544.0,633.0 C574.0,618.0 594.0,603.0 604.0,583.0" fill="none" stroke="#555" stroke-width="0.8" stroke-opacity="0.29250000000000004" stroke-linecap="round"/>
<path d="M396.0,648.0 C436.0,658.0 496.0,648.0 536.0,628.0 C566.0,613.0 586.0,598.0 596.0,578.0" fill="none" stroke="#555" stroke-width="0.8" stroke-opacity="0.29250000000000004" stroke-linecap="round"/>
<path d="M408.0,655.0 C448.0,665.0 508.0,655.0 548.0,635.0 C578.0,620.0 598.0,605.0 608.0,585.0" fill="none" stroke="#555" stroke-width="0.8" stroke-opacity="0.29250000000000004" stroke-linecap="round"/>
<path d="M560,560 C530,590 520,620 505,662" fill="none" stroke="#333" stroke-width="1.0" stroke-opacity="0.6" stroke-linecap="round"/>
<path d="M564.0,563.0 C534.0,593.0 524.0,623.0 509.0,665.0" fill="none" stroke="#555" stroke-width="0.8" stroke-opacity="0.27" stroke-linecap="round"/>
<path d="M556.0,558.0 C526.0,588.0 516.0,618.0 501.0,660.0" fill="none" stroke="#555" stroke-width="0.8" stroke-opacity="0.27" stroke-linecap="round"/>
<path d="M568.0,565.0 C538.0,595.0 528.0,625.0 513.0,667.0" fill="none" stroke="#555" stroke-width="0.8" stroke-opacity="0.27" stroke-linecap="round"/>
<path d="M520,440 C530,460 528,475 505,480" fill="none" stroke="#333" stroke-width="1.2" stroke-opacity="0.7" stroke-linecap="round"/>
<path d="M524.0,443.0 C534.0,463.0 532.0,478.0 509.0,483.0" fill="none" stroke="#555" stroke-width="0.8" stroke-opacity="0.315" stroke-linecap="round"/>
<path d="M516.0,438.0 C526.0,458.0 524.0,473.0 501.0,478.0" fill="none" stroke="#555" stroke-width="0.8" stroke-opacity="0.315" stroke-linecap="round"/>
<path d="M528.0,445.0 C538.0,465.0 536.0,480.0 513.0,485.0" fill="none" stroke="#555" stroke-width="0.8" stroke-opacity="0.315" stroke-linecap="round"/>
<path d="M731,469 C720,495 710,510 699,517 C680,528 665,532 648,536 C620,545 600,552 584,561 C560,575 540,585 520,593" fill="none" stroke="#333" stroke-width="1.3" stroke-opacity="0.8" stroke-linecap="round"/>
<path d="M735.0,472.0 C724.0,498.0 714.0,513.0 703.0,520.0 C684.0,531.0 669.0,535.0 652.0,539.0 C624.0,548.0 604.0,555.0 588.0,564.0 C564.0,578.0 544.0,588.0 524.0,596.0" fill="none" stroke="#555" stroke-width="0.8" stroke-opacity="0.36000000000000004" stroke-linecap="round"/>
<path d="M727.0,467.0 C716.0,493.0 706.0,508.0 695.0,515.0 C676.0,526.0 661.0,530.0 644.0,534.0 C616.0,543.0 596.0,550.0 580.0,559.0 C556.0,573.0 536.0,583.0 516.0,591.0" fill="none" stroke="#555" stroke-width="0.8" stroke-opacity="0.36000000000000004" stroke-linecap="round"/>
<path d="M739.0,474.0 C728.0,500.0 718.0,515.0 707.0,522.0 C688.0,533.0 673.0,537.0 656.0,541.0 C628.0,550.0 608.0,557.0 592.0,566.0 C568.0,580.0 548.0,590.0 528.0,598.0" fill="none" stroke="#555" stroke-width="0.8" stroke-opacity="0.36000000000000004" stroke-linecap="round"/>
<path d="M740,504 C730,525 720,540 712,545 C690,560 670,568 654,574 C630,585 610,595 584,606 C565,615 550,625 539,632" fill="none" stroke="#333" stroke-width="1.2" stroke-opacity="0.75" stroke-linecap="round"/>
<path d="M744.0,507.0 C734.0,528.0 724.0,543.0 716.0,548.0 C694.0,563.0 674.0,571.0 658.0,577.0 C634.0,588.0 614.0,598.0 588.0,609.0 C569.0,618.0 554.0,628.0 543.0,635.0" fill="none" stroke="#555" stroke-width="0.8" stroke-opacity="0.3375" stroke-linecap="round"/>
<path d="M736.0,502.0 C726.0,523.0 716.0,538.0 708.0,543.0 C686.0,558.0 666.0,566.0 650.0,572.0 C626.0,583.0 606.0,593.0 580.0,604.0 C561.0,613.0 546.0,623.0 535.0,630.0" fill="none" stroke="#555" stroke-width="0.8" stroke-opacity="0.3375" stroke-linecap="round"/>
<path d="M748.0,509.0 C738.0,530.0 728.0,545.0 720.0,550.0 C698.0,565.0 678.0,573.0 662.0,579.0 C638.0,590.0 618.0,600.0 592.0,611.0 C573.0,620.0 558.0,630.0 547.0,637.0" fill="none" stroke="#555" stroke-width="0.8" stroke-opacity="0.3375" stroke-linecap="round"/>
<path d="M744,545 C730,565 715,578 699,584 C680,595 655,605 632,613 C610,622 585,635 568,645 C560,650 555,654 552,657" fill="none" stroke="#333" stroke-width="1.2" stroke-opacity="0.7" stroke-linecap="round"/>
<path d="M748.0,548.0 C734.0,568.0 719.0,581.0 703.0,587.0 C684.0,598.0 659.0,608.0 636.0,616.0 C614.0,625.0 589.0,638.0 572.0,648.0 C564.0,653.0 559.0,657.0 556.0,660.0" fill="none" stroke="#555" stroke-width="0.8" stroke-opacity="0.315" stroke-linecap="round"/>
<path d="M740.0,543.0 C726.0,563.0 711.0,576.0 695.0,582.0 C676.0,593.0 651.0,603.0 628.0,611.0 C606.0,620.0 581.0,633.0 564.0,643.0 C556.0,648.0 551.0,652.0 548.0,655.0" fill="none" stroke="#555" stroke-width="0.8" stroke-opacity="0.315" stroke-linecap="round"/>
<path d="M752.0,550.0 C738.0,570.0 723.0,583.0 707.0,589.0 C688.0,600.0 663.0,610.0 640.0,618.0 C618.0,627.0 593.0,640.0 576.0,650.0 C568.0,655.0 563.0,659.0 560.0,662.0" fill="none" stroke="#555" stroke-width="0.8" stroke-opacity="0.315" stroke-linecap="round"/>
<path d="M760,561 C750,580 740,592 728,600 C715,612 700,625 686,632 C675,640 665,646 657,651" fill="none" stroke="#333" stroke-width="1.1" stroke-opacity="0.65" stroke-linecap="round"/>
<path d="M764.0,564.0 C754.0,583.0 744.0,595.0 732.0,603.0 C719.0,615.0 704.0,628.0 690.0,635.0 C679.0,643.0 669.0,649.0 661.0,654.0" fill="none" stroke="#555" stroke-width="0.8" stroke-opacity="0.29250000000000004" stroke-linecap="round"/>
<path d="M756.0,559.0 C746.0,578.0 736.0,590.0 724.0,598.0 C711.0,610.0 696.0,623.0 682.0,630.0 C671.0,638.0 661.0,644.0 653.0,649.0" fill="none" stroke="#555" stroke-width="0.8" stroke-opacity="0.29250000000000004" stroke-linecap="round"/>
<path d="M768.0,566.0 C758.0,585.0 748.0,597.0 736.0,605.0 C723.0,617.0 708.0,630.0 694.0,637.0 C683.0,645.0 673.0,651.0 665.0,656.0" fill="none" stroke="#555" stroke-width="0.8" stroke-opacity="0.29250000000000004" stroke-linecap="round"/>
<path d="M552,478 C580,488 600,490 616,491" fill="none" stroke="#333" stroke-width="1.0" stroke-opacity="0.6" stroke-linecap="round"/>
<path d="M556.0,481.0 C584.0,491.0 604.0,493.0 620.0,494.0" fill="none" stroke="#555" stroke-width="0.8" stroke-opacity="0.27" stroke-linecap="round"/>
<path d="M548.0,476.0 C576.0,486.0 596.0,488.0 612.0,489.0" fill="none" stroke="#555" stroke-width="0.8" stroke-opacity="0.27" stroke-linecap="round"/>
<path d="M560.0,483.0 C588.0,493.0 608.0,495.0 624.0,496.0" fill="none" stroke="#555" stroke-width="0.8" stroke-opacity="0.27" stroke-linecap="round"/>
<path d="M561,440 C545,455 530,465 520,472" fill="none" stroke="#333" stroke-width="1.0" stroke-opacity="0.6" stroke-linecap="round"/>
<path d="M565.0,443.0 C549.0,458.0 534.0,468.0 524.0,475.0" fill="none" stroke="#555" stroke-width="0.8" stroke-opacity="0.27" stroke-linecap="round"/>
<path d="M557.0,438.0 C541.0,453.0 526.0,463.0 516.0,470.0" fill="none" stroke="#555" stroke-width="0.8" stroke-opacity="0.27" stroke-linecap="round"/>
<path d="M569.0,445.0 C553.0,460.0 538.0,470.0 528.0,477.0" fill="none" stroke="#555" stroke-width="0.8" stroke-opacity="0.27" stroke-linecap="round"/>
<path d="M520,520 C540,510 560,500 580,495" fill="none" stroke="#333" stroke-width="0.9" stroke-opacity="0.5" stroke-linecap="round"/>
<path d="M524.0,523.0 C544.0,513.0 564.0,503.0 584.0,498.0" fill="none" stroke="#555" stroke-width="0.8" stroke-opacity="0.225" stroke-linecap="round"/>
<path d="M516.0,518.0 C536.0,508.0 556.0,498.0 576.0,493.0" fill="none" stroke="#555" stroke-width="0.8" stroke-opacity="0.225" stroke-linecap="round"/>
<path d="M528.0,525.0 C548.0,515.0 568.0,505.0 588.0,500.0" fill="none" stroke="#555" stroke-width="0.8" stroke-opacity="0.225" stroke-linecap="round"/>
<path d="M600,655 C630,660 680,650 700,630" fill="none" stroke="#333" stroke-width="1.0" stroke-opacity="0.55" stroke-linecap="round"/>
<path d="M604.0,658.0 C634.0,663.0 684.0,653.0 704.0,633.0" fill="none" stroke="#555" stroke-width="0.8" stroke-opacity="0.24750000000000003" stroke-linecap="round"/>
<path d="M596.0,653.0 C626.0,658.0 676.0,648.0 696.0,628.0" fill="none" stroke="#555" stroke-width="0.8" stroke-opacity="0.24750000000000003" stroke-linecap="round"/>
<path d="M608.0,660.0 C638.0,665.0 688.0,655.0 708.0,635.0" fill="none" stroke="#555" stroke-width="0.8" stroke-opacity="0.24750000000000003" stroke-linecap="round"/>
<path d="M738,449 C748,480 762,520 764,537 C765,560 755,590 745,596 C735,610 720,635 709,655" fill="none" stroke="#333" stroke-width="1.4" stroke-opacity="0.85" stroke-linecap="round"/>
<path d="M742.0,452.0 C752.0,483.0 766.0,523.0 768.0,540.0 C769.0,563.0 759.0,593.0 749.0,599.0 C739.0,613.0 724.0,638.0 713.0,658.0" fill="none" stroke="#555" stroke-width="0.8" stroke-opacity="0.3825" stroke-linecap="round"/>
<path d="M734.0,447.0 C744.0,478.0 758.0,518.0 760.0,535.0 C761.0,558.0 751.0,588.0 741.0,594.0 C731.0,608.0 716.0,633.0 705.0,653.0" fill="none" stroke="#555" stroke-width="0.8" stroke-opacity="0.3825" stroke-linecap="round"/>
<path d="M746.0,454.0 C756.0,485.0 770.0,525.0 772.0,542.0 C773.0,565.0 763.0,595.0 753.0,601.0 C743.0,615.0 728.0,640.0 717.0,660.0" fill="none" stroke="#555" stroke-width="0.8" stroke-opacity="0.3825" stroke-linecap="round"/>
<path d="M722,462 C730,490 740,510 738,521 C736,550 732,575 728,583 C720,605 712,625 706,638" fill="none" stroke="#333" stroke-width="1.1" stroke-opacity="0.7" stroke-linecap="round"/>
<path d="M726.0,465.0 C734.0,493.0 744.0,513.0 742.0,524.0 C740.0,553.0 736.0,578.0 732.0,586.0 C724.0,608.0 716.0,628.0 710.0,641.0" fill="none" stroke="#555" stroke-width="0.8" stroke-opacity="0.315" stroke-linecap="round"/>
<path d="M718.0,460.0 C726.0,488.0 736.0,508.0 734.0,519.0 C732.0,548.0 728.0,573.0 724.0,581.0 C716.0,603.0 708.0,623.0 702.0,636.0" fill="none" stroke="#555" stroke-width="0.8" stroke-opacity="0.315" stroke-linecap="round"/>
<path d="M730.0,467.0 C738.0,495.0 748.0,515.0 746.0,526.0 C744.0,555.0 740.0,580.0 736.0,588.0 C728.0,610.0 720.0,630.0 714.0,643.0" fill="none" stroke="#555" stroke-width="0.8" stroke-opacity="0.315" stroke-linecap="round"/>
<path d="M760,470 C775,500 785,540 780,570 C776,600 770,630 775,660" fill="none" stroke="#333" stroke-width="0.9" stroke-opacity="0.5" stroke-linecap="round"/>
<path d="M764.0,473.0 C779.0,503.0 789.0,543.0 784.0,573.0 C780.0,603.0 774.0,633.0 779.0,663.0" fill="none" stroke="#555" stroke-width="0.8" stroke-opacity="0.225" stroke-linecap="round"/>
<path d="M756.0,468.0 C771.0,498.0 781.0,538.0 776.0,568.0 C772.0,598.0 766.0,628.0 771.0,658.0" fill="none" stroke="#555" stroke-width="0.8" stroke-opacity="0.225" stroke-linecap="round"/>
<path d="M768.0,475.0 C783.0,505.0 793.0,545.0 788.0,575.0 C784.0,605.0 778.0,635.0 783.0,665.0" fill="none" stroke="#555" stroke-width="0.8" stroke-opacity="0.225" stroke-linecap="round"/>
<path d="M862,521 C845,540 830,560 816,570 C800,590 790,605 787,612 C780,630 776,645 774,655" fill="none" stroke="#333" stroke-width="1.3" stroke-opacity="0.75" stroke-linecap="round"/>
<path d="M866.0,524.0 C849.0,543.0 834.0,563.0 820.0,573.0 C804.0,593.0 794.0,608.0 791.0,615.0 C784.0,633.0 780.0,648.0 778.0,658.0" fill="none" stroke="#555" stroke-width="0.8" stroke-opacity="0.3375" stroke-linecap="round"/>
<path d="M858.0,519.0 C841.0,538.0 826.0,558.0 812.0,568.0 C796.0,588.0 786.0,603.0 783.0,610.0 C776.0,628.0 772.0,643.0 770.0,653.0" fill="none" stroke="#555" stroke-width="0.8" stroke-opacity="0.3375" stroke-linecap="round"/>
<path d="M870.0,526.0 C853.0,545.0 838.0,565.0 824.0,575.0 C808.0,595.0 798.0,610.0 795.0,617.0 C788.0,635.0 784.0,650.0 782.0,660.0" fill="none" stroke="#555" stroke-width="0.8" stroke-opacity="0.3375" stroke-linecap="round"/>
<path d="M836,537 C815,560 800,575 794,586 C785,600 780,615 777,625" fill="none" stroke="#333" stroke-width="1.1" stroke-opacity="0.65" stroke-linecap="round"/>
<path d="M840.0,540.0 C819.0,563.0 804.0,578.0 798.0,589.0 C789.0,603.0 784.0,618.0 781.0,628.0" fill="none" stroke="#555" stroke-width="0.8" stroke-opacity="0.29250000000000004" stroke-linecap="round"/>
<path d="M832.0,535.0 C811.0,558.0 796.0,573.0 790.0,584.0 C781.0,598.0 776.0,613.0 773.0,623.0" fill="none" stroke="#555" stroke-width="0.8" stroke-opacity="0.29250000000000004" stroke-linecap="round"/>
<path d="M844.0,542.0 C823.0,565.0 808.0,580.0 802.0,591.0 C793.0,605.0 788.0,620.0 785.0,630.0" fill="none" stroke="#555" stroke-width="0.8" stroke-opacity="0.29250000000000004" stroke-linecap="round"/>
<path d="M908,462 C895,490 885,510 875,527 C860,550 850,565 846,570 C840,585 840,595 842,602 C848,625 855,635 862,641 C870,650 878,660 882,664" fill="none" stroke="#333" stroke-width="1.4" stroke-opacity="0.85" stroke-linecap="round"/>
<path d="M912.0,465.0 C899.0,493.0 889.0,513.0 879.0,530.0 C864.0,553.0 854.0,568.0 850.0,573.0 C844.0,588.0 844.0,598.0 846.0,605.0 C852.0,628.0 859.0,638.0 866.0,644.0 C874.0,653.0 882.0,663.0 886.0,667.0" fill="none" stroke="#555" stroke-width="0.8" stroke-opacity="0.3825" stroke-linecap="round"/>
<path d="M904.0,460.0 C891.0,488.0 881.0,508.0 871.0,525.0 C856.0,548.0 846.0,563.0 842.0,568.0 C836.0,583.0 836.0,593.0 838.0,600.0 C844.0,623.0 851.0,633.0 858.0,639.0 C866.0,648.0 874.0,658.0 878.0,662.0" fill="none" stroke="#555" stroke-width="0.8" stroke-opacity="0.3825" stroke-linecap="round"/>
<path d="M916.0,467.0 C903.0,495.0 893.0,515.0 883.0,532.0 C868.0,555.0 858.0,570.0 854.0,575.0 C848.0,590.0 848.0,600.0 850.0,607.0 C856.0,630.0 863.0,640.0 870.0,646.0 C878.0,655.0 886.0,665.0 890.0,669.0" fill="none" stroke="#555" stroke-width="0.8" stroke-opacity="0.3825" stroke-linecap="round"/>
<path d="M914,488 C905,520 895,540 888,553 C880,570 876,580 875,586 C873,605 876,615 878,625 C885,640 893,650 901,655" fill="none" stroke="#333" stroke-width="1.1" stroke-opacity="0.7" stroke-linecap="round"/>
<path d="M918.0,491.0 C909.0,523.0 899.0,543.0 892.0,556.0 C884.0,573.0 880.0,583.0 879.0,589.0 C877.0,608.0 880.0,618.0 882.0,628.0 C889.0,643.0 897.0,653.0 905.0,658.0" fill="none" stroke="#555" stroke-width="0.8" stroke-opacity="0.315" stroke-linecap="round"/>
<path d="M910.0,486.0 C901.0,518.0 891.0,538.0 884.0,551.0 C876.0,568.0 872.0,578.0 871.0,584.0 C869.0,603.0 872.0,613.0 874.0,623.0 C881.0,638.0 889.0,648.0 897.0,653.0" fill="none" stroke="#555" stroke-width="0.8" stroke-opacity="0.315" stroke-linecap="round"/>
<path d="M922.0,493.0 C913.0,525.0 903.0,545.0 896.0,558.0 C888.0,575.0 884.0,585.0 883.0,591.0 C881.0,610.0 884.0,620.0 886.0,630.0 C893.0,645.0 901.0,655.0 909.0,660.0" fill="none" stroke="#555" stroke-width="0.8" stroke-opacity="0.315" stroke-linecap="round"/>
<path d="M805,540 C790,555 775,565 770,575" fill="none" stroke="#333" stroke-width="0.9" stroke-opacity="0.5" stroke-linecap="round"/>
<path d="M809.0,543.0 C794.0,558.0 779.0,568.0 774.0,578.0" fill="none" stroke="#555" stroke-width="0.8" stroke-opacity="0.225" stroke-linecap="round"/>
<path d="M801.0,538.0 C786.0,553.0 771.0,563.0 766.0,573.0" fill="none" stroke="#555" stroke-width="0.8" stroke-opacity="0.225" stroke-linecap="round"/>
<path d="M813.0,545.0 C798.0,560.0 783.0,570.0 778.0,580.0" fill="none" stroke="#555" stroke-width="0.8" stroke-opacity="0.225" stroke-linecap="round"/>
<path d="M1050,509 C1070,525 1085,535 1094,544 C1110,560 1125,572 1138,583 C1155,600 1168,615 1181,627 C1195,640 1210,648 1225,653" fill="none" stroke="#333" stroke-width="1.2" stroke-opacity="0.75" stroke-linecap="round"/>
<path d="M1054.0,512.0 C1074.0,528.0 1089.0,538.0 1098.0,547.0 C1114.0,563.0 1129.0,575.0 1142.0,586.0 C1159.0,603.0 1172.0,618.0 1185.0,630.0 C1199.0,643.0 1214.0,651.0 1229.0,656.0" fill="none" stroke="#555" stroke-width="0.8" stroke-opacity="0.3375" stroke-linecap="round"/>
<path d="M1046.0,507.0 C1066.0,523.0 1081.0,533.0 1090.0,542.0 C1106.0,558.0 1121.0,570.0 1134.0,581.0 C1151.0,598.0 1164.0,613.0 1177.0,625.0 C1191.0,638.0 1206.0,646.0 1221.0,651.0" fill="none" stroke="#555" stroke-width="0.8" stroke-opacity="0.3375" stroke-linecap="round"/>
<path d="M1058.0,514.0 C1078.0,530.0 1093.0,540.0 1102.0,549.0 C1118.0,565.0 1133.0,577.0 1146.0,588.0 C1163.0,605.0 1176.0,620.0 1189.0,632.0 C1203.0,645.0 1218.0,653.0 1233.0,658.0" fill="none" stroke="#555" stroke-width="0.8" stroke-opacity="0.3375" stroke-linecap="round"/>
<path d="M1029,526 C1045,545 1060,558 1072,566 C1090,580 1105,595 1116,605 C1130,620 1145,635 1160,644" fill="none" stroke="#333" stroke-width="1.1" stroke-opacity="0.7" stroke-linecap="round"/>
<path d="M1033.0,529.0 C1049.0,548.0 1064.0,561.0 1076.0,569.0 C1094.0,583.0 1109.0,598.0 1120.0,608.0 C1134.0,623.0 1149.0,638.0 1164.0,647.0" fill="none" stroke="#555" stroke-width="0.8" stroke-opacity="0.315" stroke-linecap="round"/>
<path d="M1025.0,524.0 C1041.0,543.0 1056.0,556.0 1068.0,564.0 C1086.0,578.0 1101.0,593.0 1112.0,603.0 C1126.0,618.0 1141.0,633.0 1156.0,642.0" fill="none" stroke="#555" stroke-width="0.8" stroke-opacity="0.315" stroke-linecap="round"/>
<path d="M1037.0,531.0 C1053.0,550.0 1068.0,563.0 1080.0,571.0 C1098.0,585.0 1113.0,600.0 1124.0,610.0 C1138.0,625.0 1153.0,640.0 1168.0,649.0" fill="none" stroke="#555" stroke-width="0.8" stroke-opacity="0.315" stroke-linecap="round"/>
<path d="M942,457 C950,480 955,500 963,509 C975,525 990,535 1007,544 C1025,555 1040,570 1051,583 C1065,600 1085,615 1099,627 C1108,635 1115,643 1120,649" fill="none" stroke="#333" stroke-width="1.3" stroke-opacity="0.8" stroke-linecap="round"/>
<path d="M946.0,460.0 C954.0,483.0 959.0,503.0 967.0,512.0 C979.0,528.0 994.0,538.0 1011.0,547.0 C1029.0,558.0 1044.0,573.0 1055.0,586.0 C1069.0,603.0 1089.0,618.0 1103.0,630.0 C1112.0,638.0 1119.0,646.0 1124.0,652.0" fill="none" stroke="#555" stroke-width="0.8" stroke-opacity="0.36000000000000004" stroke-linecap="round"/>
<path d="M938.0,455.0 C946.0,478.0 951.0,498.0 959.0,507.0 C971.0,523.0 986.0,533.0 1003.0,542.0 C1021.0,553.0 1036.0,568.0 1047.0,581.0 C1061.0,598.0 1081.0,613.0 1095.0,625.0 C1104.0,633.0 1111.0,641.0 1116.0,647.0" fill="none" stroke="#555" stroke-width="0.8" stroke-opacity="0.36000000000000004" stroke-linecap="round"/>
<path d="M950.0,462.0 C958.0,485.0 963.0,505.0 971.0,514.0 C983.0,530.0 998.0,540.0 1015.0,549.0 C1033.0,560.0 1048.0,575.0 1059.0,588.0 C1073.0,605.0 1093.0,620.0 1107.0,632.0 C1116.0,640.0 1123.0,648.0 1128.0,654.0" fill="none" stroke="#555" stroke-width="0.8" stroke-opacity="0.36000000000000004" stroke-linecap="round"/>
<path d="M911,487 C905,510 900,530 898,544 C900,565 910,585 924,596 C940,610 955,625 976,635 C995,645 1005,655 1020,662" fill="none" stroke="#333" stroke-width="1.3" stroke-opacity="0.8" stroke-linecap="round"/>
<path d="M915.0,490.0 C909.0,513.0 904.0,533.0 902.0,547.0 C904.0,568.0 914.0,588.0 928.0,599.0 C944.0,613.0 959.0,628.0 980.0,638.0 C999.0,648.0 1009.0,658.0 1024.0,665.0" fill="none" stroke="#555" stroke-width="0.8" stroke-opacity="0.36000000000000004" stroke-linecap="round"/>
<path d="M907.0,485.0 C901.0,508.0 896.0,528.0 894.0,542.0 C896.0,563.0 906.0,583.0 920.0,594.0 C936.0,608.0 951.0,623.0 972.0,633.0 C991.0,643.0 1001.0,653.0 1016.0,660.0" fill="none" stroke="#555" stroke-width="0.8" stroke-opacity="0.36000000000000004" stroke-linecap="round"/>
<path d="M919.0,492.0 C913.0,515.0 908.0,535.0 906.0,549.0 C908.0,570.0 918.0,590.0 932.0,601.0 C948.0,615.0 963.0,630.0 984.0,640.0 C1003.0,650.0 1013.0,660.0 1028.0,667.0" fill="none" stroke="#555" stroke-width="0.8" stroke-opacity="0.36000000000000004" stroke-linecap="round"/>
<path d="M876,531 C868,555 862,575 863,596 C866,615 875,630 889,644" fill="none" stroke="#333" stroke-width="1.0" stroke-opacity="0.6" stroke-linecap="round"/>
<path d="M880.0,534.0 C872.0,558.0 866.0,578.0 867.0,599.0 C870.0,618.0 879.0,633.0 893.0,647.0" fill="none" stroke="#555" stroke-width="0.8" stroke-opacity="0.27" stroke-linecap="round"/>
<path d="M872.0,529.0 C864.0,553.0 858.0,573.0 859.0,594.0 C862.0,613.0 871.0,628.0 885.0,642.0" fill="none" stroke="#555" stroke-width="0.8" stroke-opacity="0.27" stroke-linecap="round"/>
<path d="M884.0,536.0 C876.0,560.0 870.0,580.0 871.0,601.0 C874.0,620.0 883.0,635.0 897.0,649.0" fill="none" stroke="#555" stroke-width="0.8" stroke-opacity="0.27" stroke-linecap="round"/>
<path d="M1080,470 C1100,490 1115,505 1130,520" fill="none" stroke="#333" stroke-width="1.0" stroke-opacity="0.6" stroke-linecap="round"/>
<path d="M1084.0,473.0 C1104.0,493.0 1119.0,508.0 1134.0,523.0" fill="none" stroke="#555" stroke-width="0.8" stroke-opacity="0.27" stroke-linecap="round"/>
<path d="M1076.0,468.0 C1096.0,488.0 1111.0,503.0 1126.0,518.0" fill="none" stroke="#555" stroke-width="0.8" stroke-opacity="0.27" stroke-linecap="round"/>
<path d="M1088.0,475.0 C1108.0,495.0 1123.0,510.0 1138.0,525.0" fill="none" stroke="#555" stroke-width="0.8" stroke-opacity="0.27" stroke-linecap="round"/>
<path d="M990,500 C1010,520 1030,530 1050,540" fill="none" stroke="#333" stroke-width="0.9" stroke-opacity="0.5" stroke-linecap="round"/>
<path d="M994.0,503.0 C1014.0,523.0 1034.0,533.0 1054.0,543.0" fill="none" stroke="#555" stroke-width="0.8" stroke-opacity="0.225" stroke-linecap="round"/>
<path d="M986.0,498.0 C1006.0,518.0 1026.0,528.0 1046.0,538.0" fill="none" stroke="#555" stroke-width="0.8" stroke-opacity="0.225" stroke-linecap="round"/>
<path d="M998.0,505.0 C1018.0,525.0 1038.0,535.0 1058.0,545.0" fill="none" stroke="#555" stroke-width="0.8" stroke-opacity="0.225" stroke-linecap="round"/>
<path d="M1000,585 C1030,605 1060,625 1090,645" fill="none" stroke="#333" stroke-width="1.0" stroke-opacity="0.55" stroke-linecap="round"/>
<path d="M1004.0,588.0 C1034.0,608.0 1064.0,628.0 1094.0,648.0" fill="none" stroke="#555" stroke-width="0.8" stroke-opacity="0.24750000000000003" stroke-linecap="round"/>
<path d="M996.0,583.0 C1026.0,603.0 1056.0,623.0 1086.0,643.0" fill="none" stroke="#555" stroke-width="0.8" stroke-opacity="0.24750000000000003" stroke-linecap="round"/>
<path d="M1008.0,590.0 C1038.0,610.0 1068.0,630.0 1098.0,650.0" fill="none" stroke="#555" stroke-width="0.8" stroke-opacity="0.24750000000000003" stroke-linecap="round"/>
<path d="M955,470 C980,480 1000,490 1020,500" fill="none" stroke="#333" stroke-width="0.9" stroke-opacity="0.5" stroke-linecap="round"/>
<path d="M959.0,473.0 C984.0,483.0 1004.0,493.0 1024.0,503.0" fill="none" stroke="#555" stroke-width="0.8" stroke-opacity="0.225" stroke-linecap="round"/>
<path d="M951.0,468.0 C976.0,478.0 996.0,488.0 1016.0,498.0" fill="none" stroke="#555" stroke-width="0.8" stroke-opacity="0.225" stroke-linecap="round"/>
<path d="M963.0,475.0 C988.0,485.0 1008.0,495.0 1028.0,505.0" fill="none" stroke="#555" stroke-width="0.8" stroke-opacity="0.225" stroke-linecap="round"/>
<path d="M464.8,589.5 L465.1,589.8 L465.4,590.3 L465.5,590.7 L465.5,591.2 L465.4,591.8 L465.2,592.4 L464.9,593.0 L464.5,593.6 L464.0,594.2 L463.4,594.8 L462.7,595.4 L461.8,596.0 L460.9,596.6 L459.9,597.1 L458.8,597.6 L457.7,598.1 L456.5,598.5 L455.3,598.8 L454.0,599.1 L452.7,599.3 L451.5,599.4 L450.3,599.4 L449.1,599.4 L447.9,599.2 L446.8,599.0 L445.8,598.7 L444.9,598.3 L444.1,597.8 L443.5,597.2 L443.0,596.6 L442.6,595.8 L442.4,595.0 L442.3,594.2 L442.4,593.3 L442.7,592.4 L443.1,591.4 L443.8,590.4 L444.5,589.4 L445.5,588.4 L446.6,587.4 L447.9,586.5 L449.3,585.6 L450.8,584.7 L452.4,583.9 L454.1,583.2 L455.9,582.5 L457.8,582.0 L459.7,581.5 L461.6,581.2 L463.5,580.9 L465.3,580.8 L467.1,580.8 L468.9,581.0 L470.5,581.3 L472.0,581.7 L473.4,582.2 L474.6,582.8 L475.7,583.6 L476.6,584.4 L477.2,585.4 L477.7,586.5 L477.9,587.6 L477.9,588.9 L477.7,590.2 L477.2,591.5 L476.5,592.9 L475.5,594.2 L474.4,595.6 L473.0,597.0 L471.4,598.3 L469.6,599.6 L467.6,600.8 L465.5,602.0 L463.3,603.1 L460.9,604.0 L458.5,604.9 L456.0,605.6 L453.4,606.1 L450.9,606.6 L448.3,606.8 L445.9,606.9 L443.5,606.9 L441.2,606.6 L439.1,606.2 L437.1,605.7 L435.4,605.0 L433.8,604.1 L432.5,603.1 L431.4,601.9 L430.6,600.6 L430.0,599.2 L429.8,597.7 L429.9,596.1 L430.2,594.4 L430.9,592.7 L431.9,590.9 L433.2,589.1 L434.7,587.4 L436.5,585.6 L438.6,583.9 L440.9,582.3 L443.5,580.7 L446.2,579.3 L449.1,578.0 L452.1,576.8 L455.2,575.8 L458.3,574.9 L461.5,574.2 L464.7,573.7 L467.8,573.4 L470.9,573.3 L473.9,573.4 L476.7,573.7 L479.3,574.2" fill="none" stroke="#333" stroke-width="1.2" stroke-opacity="0.75" stroke-linecap="round"/>
<path d="M674.4,618.0 L674.8,618.5 L675.1,619.0 L675.3,619.6 L675.4,620.3 L675.4,620.9 L675.4,621.7 L675.2,622.4 L674.9,623.2 L674.5,623.9 L673.9,624.7 L673.3,625.4 L672.6,626.2 L671.8,626.9 L670.9,627.5 L669.9,628.1 L668.8,628.7 L667.7,629.1 L666.5,629.5 L665.3,629.8 L664.1,630.0 L662.8,630.1 L661.6,630.1 L660.4,630.1 L659.2,629.8 L658.1,629.5 L657.0,629.1 L656.0,628.6 L655.1,627.9 L654.4,627.2 L653.7,626.4 L653.2,625.4 L652.8,624.4 L652.6,623.4 L652.6,622.3 L652.7,621.1 L653.0,619.9 L653.4,618.7 L654.0,617.4 L654.8,616.2 L655.7,615.0 L656.8,613.8 L658.0,612.7 L659.4,611.7 L660.9,610.7 L662.5,609.9 L664.2,609.1 L665.9,608.4 L667.8,607.9 L669.6,607.5 L671.5,607.3 L673.3,607.2 L675.1,607.3 L676.9,607.5 L678.6,607.9 L680.2,608.4 L681.7,609.1 L683.0,609.9 L684.2,610.9 L685.3,612.0 L686.1,613.3 L686.8,614.6 L687.2,616.1 L687.4,617.6 L687.4,619.2 L687.2,620.9 L686.7,622.6 L686.0,624.3 L685.1,626.0 L684.0,627.7 L682.6,629.3 L681.1,630.9 L679.3,632.4 L677.4,633.8 L675.3,635.0 L673.1,636.2 L670.8,637.2 L668.4,638.0 L666.0,638.6 L663.5,639.1 L661.0,639.4 L658.6,639.4 L656.2,639.3 L653.8,639.0 L651.6,638.4 L649.5,637.7 L647.6,636.7 L645.9,635.6 L644.4,634.2 L643.1,632.7 L642.0,631.1 L641.2,629.3 L640.7,627.4 L640.5,625.4 L640.6,623.3 L640.9,621.2 L641.6,619.0 L642.5,616.8 L643.8,614.6 L645.3,612.5 L647.1,610.4 L649.1,608.4 L651.3,606.5 L653.8,604.8 L656.4,603.2 L659.2,601.8 L662.2,600.6 L665.2,599.6 L668.3,598.8 L671.4,598.3 L674.5,598.0 L677.6,597.9 L680.5,598.1 L683.4,598.6 L686.2,599.3" fill="none" stroke="#333" stroke-width="1.2" stroke-opacity="0.75" stroke-linecap="round"/>
<path d="M925.2,608.1 L925.5,608.5 L925.7,609.1 L925.9,609.6 L925.9,610.2 L925.8,610.8 L925.7,611.5 L925.4,612.1 L925.0,612.8 L924.6,613.4 L924.0,614.1 L923.3,614.7 L922.6,615.3 L921.7,615.8 L920.8,616.3 L919.8,616.7 L918.8,617.1 L917.7,617.4 L916.5,617.7 L915.4,617.8 L914.2,617.9 L913.0,617.8 L911.9,617.7 L910.7,617.5 L909.7,617.2 L908.7,616.8 L907.7,616.3 L906.9,615.7 L906.2,615.0 L905.5,614.3 L905.0,613.5 L904.7,612.6 L904.5,611.6 L904.4,610.7 L904.5,609.6 L904.7,608.6 L905.1,607.5 L905.7,606.5 L906.4,605.4 L907.3,604.4 L908.3,603.4 L909.4,602.5 L910.7,601.6 L912.1,600.8 L913.6,600.1 L915.2,599.5 L916.8,598.9 L918.5,598.5 L920.3,598.2 L922.0,598.1 L923.8,598.1 L925.5,598.2 L927.2,598.4 L928.8,598.8 L930.3,599.3 L931.8,600.0 L933.1,600.8 L934.2,601.7 L935.2,602.7 L936.0,603.8 L936.7,605.0 L937.1,606.3 L937.4,607.6 L937.4,609.1 L937.2,610.5 L936.8,612.0 L936.1,613.5 L935.3,614.9 L934.2,616.4 L932.9,617.8 L931.5,619.1 L929.8,620.4 L928.0,621.6 L926.1,622.6 L924.0,623.6 L921.8,624.4 L919.6,625.0 L917.3,625.5 L914.9,625.9 L912.6,626.0 L910.2,626.0 L907.9,625.8 L905.7,625.4 L903.6,624.9 L901.6,624.2 L899.8,623.3 L898.1,622.2 L896.7,621.0 L895.4,619.6 L894.4,618.1 L893.6,616.5 L893.1,614.8 L892.8,613.1 L892.9,611.2 L893.2,609.3 L893.8,607.4 L894.7,605.5 L895.8,603.6 L897.2,601.8 L898.9,600.0 L900.8,598.3 L902.9,596.7 L905.2,595.3 L907.7,594.0 L910.4,592.8 L913.1,591.8 L916.0,591.0 L918.9,590.4 L921.9,590.0 L924.8,589.9 L927.7,589.9 L930.6,590.2 L933.3,590.7 L936.0,591.4 L938.4,592.4" fill="none" stroke="#333" stroke-width="1.2" stroke-opacity="0.75" stroke-linecap="round"/>
<path d="M1066.4,529.9 L1066.6,530.3 L1066.8,530.8 L1066.8,531.2 L1066.8,531.7 L1066.7,532.3 L1066.5,532.8 L1066.2,533.3 L1065.8,533.9 L1065.4,534.4 L1064.9,534.9 L1064.2,535.3 L1063.5,535.8 L1062.8,536.2 L1061.9,536.5 L1061.0,536.8 L1060.1,537.1 L1059.1,537.3 L1058.1,537.4 L1057.1,537.4 L1056.1,537.4 L1055.1,537.3 L1054.1,537.1 L1053.2,536.8 L1052.3,536.5 L1051.4,536.1 L1050.7,535.6 L1050.0,535.0 L1049.4,534.4 L1048.9,533.8 L1048.5,533.0 L1048.3,532.2 L1048.2,531.4 L1048.2,530.6 L1048.4,529.7 L1048.6,528.9 L1049.1,528.0 L1049.6,527.1 L1050.3,526.3 L1051.2,525.5 L1052.1,524.7 L1053.2,524.0 L1054.4,523.4 L1055.6,522.8 L1057.0,522.3 L1058.4,521.9 L1059.9,521.5 L1061.4,521.3 L1062.9,521.2 L1064.4,521.2 L1065.9,521.3 L1067.4,521.5 L1068.8,521.8 L1070.2,522.3 L1071.5,522.8 L1072.7,523.5 L1073.7,524.2 L1074.6,525.1 L1075.4,526.0 L1076.1,527.0 L1076.5,528.1 L1076.8,529.2 L1076.9,530.4 L1076.8,531.6 L1076.5,532.8 L1076.0,534.0 L1075.4,535.2 L1074.5,536.4 L1073.5,537.6 L1072.3,538.7 L1070.9,539.7 L1069.4,540.7 L1067.8,541.5 L1066.0,542.3 L1064.1,542.9 L1062.2,543.4 L1060.2,543.8 L1058.2,544.1 L1056.1,544.2 L1054.1,544.2 L1052.0,544.0 L1050.1,543.7 L1048.2,543.2 L1046.4,542.6 L1044.8,541.8 L1043.3,540.9 L1041.9,539.9 L1040.7,538.8 L1039.7,537.5 L1039.0,536.2 L1038.4,534.8 L1038.1,533.3 L1038.1,531.8 L1038.2,530.2 L1038.6,528.7 L1039.3,527.1 L1040.2,525.5 L1041.3,524.0 L1042.7,522.6 L1044.3,521.2 L1046.1,519.9 L1048.0,518.7 L1050.1,517.6 L1052.4,516.7 L1054.8,515.9 L1057.2,515.2 L1059.8,514.8 L1062.3,514.5 L1064.9,514.4 L1067.5,514.4 L1070.0,514.7 L1072.4,515.1 L1074.7,515.7 L1076.9,516.5 L1079.0,517.5" fill="none" stroke="#333" stroke-width="1.2" stroke-opacity="0.75" stroke-linecap="round"/>
</g>
<!-- ROCK -->
<g id="rock" stroke-linejoin="round" stroke-linecap="round">
 <path d="M752,250 C770,262 820,268 860,262 C885,258 895,250 890,242 M740,258 C760,270 830,278 880,268 M790,262 C820,268 850,268 880,262" fill="none" stroke="#444" stroke-width="1" stroke-opacity="0.7"/>
 <clipPath id="rockc"><path d="M770.7,239 C774,234 790,220 798,215 C808,210 820,204 828.5,203.6 L863.4,214 C868,225 873,235 873.2,243.4 C866,248 860,252 856.8,252.7 C840,252 820,248 793.6,245.6 C785,245 776,244 770.7,239Z"/></clipPath>
 <path d="M770.7,239 C774,234 790,220 798,215 C808,210 820,204 828.5,203.6 L863.4,214 C868,225 873,235 873.2,243.4 C866,248 860,252 856.8,252.7 C840,252 820,248 793.6,245.6 C785,245 776,244 770.7,239Z" fill="#ece8de"/>
 <g clip-path="url(#rockc)" stroke="#555" stroke-width="0.8" fill="none">
  <path d="M770,247 L790,226 M778,248 L800,225 M786,249 L808,226 M794,249 L816,226 M802,250 L824,228 M810,250 L832,228 M818,251 L840,229 M826,252 L848,230 M834,253 L856,231"/>
  <path d="M846,224 L846,252 M850,222 L851,252 M854,220 L856,252 M858,218 L861,252 M862,216 L866,250 M866,222 L870,248"/>
  <path d="M775,232 C790,225 820,224 838,226 M843.8,227 L863.4,214"/>
 </g>
 <path d="M770.7,239 C774,234 790,220 798,215 C808,210 820,204 828.5,203.6 L863.4,214 C868,225 873,235 873.2,243.4 C866,248 860,252 856.8,252.7 C840,252 820,248 793.6,245.6 C785,245 776,244 770.7,239Z" fill="none" stroke="#1a1a1a" stroke-width="2"/>
 <path d="M843.8,227 L848,251" stroke="#333" stroke-width="1"/>
</g>
<!-- ROPE & POSTS -->
<g id="rope">
 <g stroke-linecap="round">
  <path d="M393,258 L397,320" stroke="#1a1a1a" stroke-width="10"/>
  <path d="M393,258 L397,320" stroke="#e8e4da" stroke-width="5.5"/>
  <path d="M615,291 L616,352" stroke="#1a1a1a" stroke-width="9.5"/>
  <path d="M615,291 L616,352" stroke="#e8e4da" stroke-width="5"/>
  <path d="M811.5,293 L812,352" stroke="#1a1a1a" stroke-width="9.5"/>
  <path d="M811.5,293 L812,352" stroke="#e8e4da" stroke-width="5"/>
  <path d="M1026,250 L1023,308" stroke="#1a1a1a" stroke-width="10"/>
  <path d="M1026,250 L1023,308" stroke="#e8e4da" stroke-width="5.5"/>
 </g>
 <path d="M385,318 L405,322 M380,322 L400,316 M1015,308 L1040,310 M1012,312 L1030,304" stroke="#666" stroke-width="0.8"/>
 <g fill="none" stroke-linecap="round">
  <path id="rp" d="M398,267 C430,285 520,298 614,298 C680,302 740,306 811.5,299 C880,292 960,280 1021,258"/>
  <use href="#rp" stroke="#222" stroke-width="6.6"/>
  <use href="#rp" stroke="#eeeae0" stroke-width="4.2"/>
  <use href="#rp" stroke="#555" stroke-width="4.2" stroke-dasharray="1.2 3.6" stroke-linecap="butt"/>
 </g>
 <ellipse cx="394" cy="267" rx="7.5" ry="5" fill="#e4e0d6" stroke="#1a1a1a" stroke-width="1.8"/>
 <ellipse cx="1025" cy="258" rx="7.5" ry="5" fill="#e4e0d6" stroke="#1a1a1a" stroke-width="1.8"/>
 <ellipse cx="393" cy="258" rx="5" ry="2.5" fill="#e8e4da" stroke="#1a1a1a" stroke-width="1.5"/>
 <ellipse cx="1026" cy="250" rx="5" ry="2.5" fill="#e8e4da" stroke="#1a1a1a" stroke-width="1.5"/>
 <ellipse cx="615" cy="291" rx="4.5" ry="2.2" fill="#e8e4da" stroke="#1a1a1a" stroke-width="1.5"/>
 <ellipse cx="811.5" cy="293" rx="4.5" ry="2.2" fill="#e8e4da" stroke="#1a1a1a" stroke-width="1.5"/>
</g>

<!-- SERVER -->
<g id="server">
 <!-- floor shadow hatch -->
 <clipPath id="flc"><path d="M24,345 L68,338 73,373 152,418 140,434 22,405Z"/></clipPath>
 <g clip-path="url(#flc)" stroke="#4a4a4a" stroke-width="0.9" fill="none" opacity="0.6">
  <path d="M22,340.0 L150,378.0 M24,346.0 L150,385.5 M26,352.0 L150,393.0 M28,358.0 L150,400.5 M30,364.0 L150,408.0 M32,370.0 L150,415.5 M34,376.0 L150,423.0 M36,382.0 L150,430.5 M38,388.0 L150,438.0 M40,394.0 L150,445.5 M42,400.0 L150,453.0 M44,406.0 L150,460.5 M46,412.0 L150,468.0 M48,418.0 L150,475.5"/>
  <path d="M20,400.0 L70,360.0 M29,401.5 L79,361.5 M38,403.0 L88,363.0 M47,404.5 L97,364.5 M56,406.0 L106,366.0 M65,407.5 L115,367.5 M74,409.0 L124,369.0 M83,410.5 L133,370.5 M92,412.0 L142,372.0 M101,413.5 L151,373.5 M110,415.0 L160,375.0 M119,416.5 L169,376.5"/>
 </g>
 <!-- top -->
 <path d="M60.8,104.7 L235.5,61.7 324.1,73.4 249.9,94.3 135.2,120.3Z" fill="#ece8de" stroke="#1a1a1a" stroke-width="2"/>
 <path d="M171.7,80 L249.9,93.5" stroke="#333" stroke-width="1.2" fill="none"/>
 <path d="M80,104 L200,80 M90,108 L210,82 M100,112 L180,94 M110,114 L170,100" stroke="#777" stroke-width="0.7" fill="none"/>
 <!-- left side panel -->
 <path d="M61,105 L136,120 L142,398 L67,374Z" fill="url(#hx)" stroke="#1a1a1a" stroke-width="2.2"/>
 <path d="M61,105 L136,120 L142,398 L67,374Z" fill="url(#spg)"/>
 <!-- plinth -->
 <path d="M67,374 L142,398 L152,418 L73,386Z" fill="#5a5a58" stroke="#1a1a1a" stroke-width="1.5"/>
 <path d="M142,398 L325,308 L322,322 L152,418Z" fill="#6a6966" stroke="#1a1a1a" stroke-width="1.5"/>
 <!-- front faces -->
 <path d="M136,120 L250,94 L251,351 L142,398Z" fill="#ebe7dd" stroke="#1a1a1a" stroke-width="2"/>
 <path d="M147,125 L247,102 L247,346 L152,390Z" fill="none" stroke="#333" stroke-width="1.2"/>
 <path d="M250,94 L324,75 L325,310 L251,351Z" fill="#ebe7dd" stroke="#1a1a1a" stroke-width="2"/>
 <path d="M256,104 L319,87 L320,302 L257,338Z" fill="none" stroke="#333" stroke-width="1.2"/>
 <!-- indicator strip & button -->
 <path d="M166.4,124 L177.1,121.5 177.1,135 166.4,137.5Z" fill="#444" stroke="#111" stroke-width="1"/>
 <path d="M182,118.6 L231.8,108.8 231.8,118.6 182,132.2Z" fill="#ddd9cf" stroke="#222" stroke-width="1.3"/>
 <path d="M182,118.6 L195,116 195,128.7 182,132.2Z" fill="#333"/>
 <path d="M201,114.5 V126.5 M207,113.3 V125.3 M213,112.2 V124 M219,111 V122.6 M225,110 V121 M195,122 L231.8,113.5" stroke="#333" stroke-width="0.8" fill="none"/>
 <!-- reel window -->
 <path d="M151.7,146 L246.5,121.5 246.5,206.5 153.7,234.8Z" fill="#686662" stroke="#1a1a1a" stroke-width="1.6"/>
 <path d="M179,142 L230,129.3 230,133 179,146Z" fill="#ddd" />
 <path d="M153.7,234.8 L246.5,206.5 246.5,211.4 153.7,240.7Z" fill="#d8d4ca" stroke="#222" stroke-width="1.2"/>
 <circle cx="176.2" cy="175.2" r="20.5" fill="#ece8de" stroke="#1a1a1a" stroke-width="1.6"/>
 <circle cx="221.1" cy="162.5" r="20.5" fill="#ece8de" stroke="#1a1a1a" stroke-width="1.6"/>
 <circle cx="176.2" cy="175.2" r="6.5" fill="#bbb" stroke="#222" stroke-width="1.3"/>
 <circle cx="221.1" cy="162.5" r="6.5" fill="#bbb" stroke="#222" stroke-width="1.3"/>
 <circle cx="176.2" cy="175.2" r="3" fill="#e8e4da" stroke="#444" stroke-width="0.6"/>
 <circle cx="221.1" cy="162.5" r="3" fill="#e8e4da" stroke="#444" stroke-width="0.6"/>
 <g fill="#555" stroke="#222" stroke-width="0.6">
  <path d="M164,164 l5,-2 3,6 -5,2z"/><path d="M186,172 l5,-1 1,6 -5,1z"/><path d="M169,188 l6,-2 1,6 -6,1z"/>
  <path d="M218,148 l6,-1 -1,6 -5,0z"/><path d="M230,165 l6,0 -2,6 -5,-2z"/><path d="M209,168 l5,-1 0,6 -5,1z"/>
 </g>
 <path d="M189.8,198.7 L211.3,193.8 211.3,204.6 190.8,209.4Z" fill="#e0dcd2" stroke="#222" stroke-width="1.2"/>
 <path d="M167,236 v-18 q4,-10 9,0 v16 M216,210 v-12 q4,-8 8,0 v10" fill="none" stroke="#ddd" stroke-width="2.2"/>
 <!-- lower door -->
 <path d="M172,240 L229,223 230,357 175,385Z" fill="#e2ded4" stroke="#222" stroke-width="1.5"/>
 <path d="M178,240 L185,238 186,379 180,382Z" fill="#8d8b86" stroke="#222" stroke-width="1"/>
 <path d="M219,226 L227,224 228,357 220,361Z" fill="#8d8b86" stroke="#222" stroke-width="1"/>
 <path d="M185,238 L219,228 220,361 186,377Z" fill="#eeeae0" stroke="#333" stroke-width="1.2"/>
 <path d="M181,270 L184,269 M181,320 L184,319 M220,260 L224,259 M220,300 L224,299" stroke="#ddd" stroke-width="1.5"/>
 <path d="M190,243 L210,237 210,242 190,248Z" fill="#ccc" stroke="#333" stroke-width="0.8"/>
 <path d="M236,215 L237,345 M240,213 L241,343" stroke="#999" stroke-width="0.6"/>
 <!-- right unit details -->
 <path d="M257.7,99.5 L317.6,82.6 317.6,91.6 257.7,108.5Z" fill="#666" stroke="#222" stroke-width="1"/>
 <path d="M261.6,120.3 L309.8,111.2 311,158 262.9,173.8Z" fill="#e0dcd2" stroke="#1a1a1a" stroke-width="1.5"/>
 <g stroke="#555" stroke-width="0.7">
  <path d="M264,126 L308,117.5 M264,131 L308,122.5 M264,136 L308,127.5 M264,141 L308,132.5 M264,146 L309,137.5 M264,151 L309,142.5 M264,156 L309,147.5 M264,161 L309,152.5 M264,166 L309,157"/>
 </g>
 <path d="M263,189 l6,-1.5 v6 l-6,1.5z M272,187 l6,-1.5 v6 l-6,1.5z" fill="#ccc" stroke="#222" stroke-width="1"/>
 <path d="M285,181 l24,-6 v7 l-24,6z" fill="#ddd" stroke="#222" stroke-width="1.2"/>
 <path d="M262,205 L312,191 312,205 262,219Z" fill="#e6e2d8" stroke="#222" stroke-width="1.2"/>
 <circle cx="269" cy="210" r="3.5" fill="#444"/>
 <path d="M280,205 l3,5 3,-7 M292,201 v6 M296,199 q4,0 3,5 q-3,2 -3,-5" stroke="#222" stroke-width="1.3" fill="none"/>
 <path d="M262,223 L312,209 M262,227 L312,213" stroke="#444" stroke-width="0.8"/>
 <path d="M264,244.6 L310.7,225.5 312,255.5 265.6,276Z" fill="#dcd8ce" stroke="#1a1a1a" stroke-width="1.4"/>
 <g stroke="#333" stroke-width="0.7">
  <path d="M264.5,251 L311,232 M265,258 L311.3,239 M265,264 L311.6,245.5 M265.3,270 L311.8,251"/>
  <path d="M270,242.5 V273.5 M276,240 V271 M282,237.5 V268 M288,235 V265.5 M294,232.5 V263 M300,230 V260.5 M306,227.5 V258"/>
 </g>
 <path d="M270,285 V330 M280,282 V320 M290,278 V318 M300,270 V310 M310,262 V300" stroke="#999" stroke-width="0.6"/>
</g>


<!-- LAPTOP -->
<g id="laptop" stroke-linejoin="round" stroke-linecap="round">
 <path d="M1222,308 L1245,300 M1220,314 L1250,304 M1218,320 L1246,310 M1200,328 L1236,316 M1170,338 L1220,324" stroke="#666" stroke-width="0.8"/>
 <path d="M1058.8,290.6 L1118.6,270.7 1218,308.3 1156.2,340.4Z" fill="#eeeae0" stroke="#1a1a1a" stroke-width="2.2"/>
 <path d="M1058.8,290.6 L1058.8,296 1156.2,346 1218,313.5 1218,308.3 1156.2,340.4Z" fill="#bbb7ae" stroke="#1a1a1a" stroke-width="1.8"/>
 <path d="M1093,284 L1120.8,275 1200.4,307.2 1170.6,320.5Z" fill="#dedad0" stroke="#222" stroke-width="1.3"/>
 <g stroke="#444" stroke-width="0.7">
  <path d="M1098.6,282.2 L1176.6,317.8 M1104.1,280.4 L1182.5,315.2 M1109.7,278.6 L1188.5,312.5 M1115.2,276.8 L1194.4,309.9 M1098.5,286.6 L1126.5,277.3 M1104.1,289.2 L1132.2,279.6 M1109.6,291.8 L1137.9,281.9 M1115.2,294.4 L1143.5,284.2 M1120.7,297.0 L1149.2,286.5 M1126.3,299.6 L1154.9,288.8 M1131.8,302.2 L1160.6,291.1 M1137.3,304.9 L1166.3,293.4 M1142.9,307.5 L1172.0,295.7 M1148.4,310.1 L1177.7,298.0 M1154.0,312.7 L1183.3,300.3 M1159.5,315.3 L1189.0,302.6 M1165.1,317.9 L1194.7,304.9"/>
 </g>
 <path d="M1096.5,305 L1114,298.4 1138.5,310.5 1120.8,317.2Z" fill="#e6e2d8" stroke="#333" stroke-width="1.1"/>
 <path d="M1131.9,194.4 L1233.6,222 1218,307.2 1119.7,269.6Z" fill="#e9e5db" stroke="#1a1a1a" stroke-width="2.4"/>
 <path d="M1135,201 L1225.9,227.6 1212.6,296 1125,265Z" fill="#f0ece2" stroke="#222" stroke-width="1.6"/>
 <circle cx="1179" cy="211" r="1.3" fill="#222"/>
 <clipPath id="scr"><path d="M1135,201 L1225.9,227.6 1212.6,296 1125,265Z"/></clipPath>
 <g stroke="#999" stroke-width="0.7" clip-path="url(#scr)">
  <path d="M1040,300 L1190,190 M1053,300 L1203,190 M1066,300 L1216,190 M1079,300 L1229,190 M1092,300 L1242,190 M1105,300 L1255,190 M1118,300 L1268,190 M1131,300 L1281,190 M1144,300 L1294,190 M1157,300 L1307,190 M1170,300 L1320,190 M1183,300 L1333,190 M1196,300 L1346,190"/>
 </g>
</g>

<!-- ROBOT -->
<g id="robot" stroke-linejoin="round" stroke-linecap="round">
 <path d="M1250,368 L1290,360 M1255,374 L1300,366 M1262,378 L1308,370 M1270,382 L1312,374" stroke="#777" stroke-width="0.8"/>
 <!-- legs -->
 <path d="M1255,334 L1268,336 1268,354 1255,352Z" fill="#e6e2d8" stroke="#1a1a1a" stroke-width="1.8"/>
 <path d="M1277,338 L1289,338 1289,360 1277,360Z" fill="#e6e2d8" stroke="#1a1a1a" stroke-width="1.8"/>
 <path d="M1245,362 C1245,352 1268,350 1270,358 C1270,365 1262,366 1250,365 C1246,365 1245,364 1245,362Z" fill="#e9e5db" stroke="#1a1a1a" stroke-width="1.8"/>
 <path d="M1270,368 C1270,358 1292,357 1293,366 C1293,373 1284,373 1275,372 C1271,372 1270,371 1270,368Z" fill="#e9e5db" stroke="#1a1a1a" stroke-width="1.8"/>
 <!-- arms -->
 <path d="M1240,290 C1234,300 1233,315 1236,327 L1245,326 C1245,312 1246,300 1249,292Z" fill="#e6e2d8" stroke="#1a1a1a" stroke-width="1.8"/>
 <circle cx="1246" cy="285" r="5.5" fill="#ddd9cf" stroke="#1a1a1a" stroke-width="1.6"/>
 <path d="M1235,328 C1232,334 1236,338 1239,336 M1243,328 C1246,333 1244,337 1241,337" stroke="#1a1a1a" stroke-width="1.6" fill="none"/>
 <path d="M1302,298 C1310,305 1313,318 1313,332 L1304,333 C1303,320 1301,310 1296,302Z" fill="#e6e2d8" stroke="#1a1a1a" stroke-width="1.8"/>
 <path d="M1304,334 C1301,342 1309,345 1313,340 M1312,333 C1317,336 1317,341 1314,343" stroke="#1a1a1a" stroke-width="1.8" fill="none"/>
 <!-- body -->
 <path d="M1250.5,273 C1270,268 1290,270 1303,283 C1304,300 1300,322 1292,334 C1278,338 1262,337 1252,328 C1246,312 1245,290 1250.5,273Z" fill="#ebe7dd" stroke="#1a1a1a" stroke-width="2"/>
 <path d="M1292,334 C1298,320 1302,300 1303,283 C1296,300 1290,320 1285,336Z" fill="#c9c5bc"/>
 <path d="M1251.7,288 L1277.5,292 1277.5,310.2 1251.7,306Z" fill="#e4e0d6" stroke="#1a1a1a" stroke-width="1.5"/>
 <path d="M1255,294 h18 M1255,298 h18 M1255,302 h18" stroke="#444" stroke-width="0.9" stroke-dasharray="2 1"/>
 <path d="M1262,275 C1270,279 1282,279 1290,274" stroke="#1a1a1a" stroke-width="3" fill="none"/>
 <circle cx="1300" cy="292" r="7" fill="#ddd9cf" stroke="#1a1a1a" stroke-width="1.8"/>
 <!-- head -->
 <path d="M1276.5,217.6 L1276.3,228" stroke="#1a1a1a" stroke-width="2"/>
 <circle cx="1279.8" cy="213" r="3.8" fill="#ddd" stroke="#1a1a1a" stroke-width="1.6"/>
 <ellipse cx="1247.5" cy="246" rx="3.5" ry="6" fill="#ccc" stroke="#1a1a1a" stroke-width="1.6"/>
 <path d="M1252,236 C1256,226 1280,224 1294,230 C1303,236 1304,250 1302,262 C1299,272 1285,273 1270,271 C1257,269 1251,266 1250,258 C1249,250 1249,242 1252,236Z" fill="#ebe7dd" stroke="#1a1a1a" stroke-width="2"/>
 <path d="M1294,230 C1303,236 1304,250 1302,262 C1299,272 1290,272 1284,272 C1292,262 1296,245 1294,230Z" fill="#cfcbc2"/>
 <circle cx="1301" cy="255" r="6" fill="#d5d1c8" stroke="#1a1a1a" stroke-width="1.8"/>
 <circle cx="1256.5" cy="248" r="3" fill="#333"/>
 <circle cx="1276.3" cy="252.8" r="3" fill="#333"/>
 <path d="M1257.5,259.8 C1262,264 1270,264.5 1274,262.8" stroke="#1a1a1a" stroke-width="1.8" fill="none"/>
</g>

<!-- TITLES -->
<g id="titles" font-family="Liberation Sans, sans-serif" font-weight="bold" fill="#111" stroke="#111" stroke-width="1.40" stroke-linejoin="round">
<text transform="translate(85.33,482.00) scale(0.618,1)" font-size="50.15">L</text>
<text transform="translate(105.83,482.00) scale(0.586,1)" font-size="50.15">E</text>
<text transform="translate(127.72,482.00) scale(0.526,1)" font-size="50.15">G</text>
<text transform="translate(148.91,482.00) scale(0.713,1)" font-size="50.15">A</text>
<text transform="translate(176.03,482.00) scale(0.522,1)" font-size="50.15">C</text>
<text transform="translate(196.36,482.00) scale(0.636,1)" font-size="50.15">Y</text>
<text transform="translate(82.85,527.80) scale(0.589,1)" font-size="50.15">S</text>
<text transform="translate(103.52,527.80) scale(0.676,1)" font-size="50.15">Y</text>
<text transform="translate(126.75,527.80) scale(0.589,1)" font-size="50.15">S</text>
<text transform="translate(147.66,527.80) scale(0.603,1)" font-size="50.15">T</text>
<text transform="translate(170.88,527.80) scale(0.544,1)" font-size="50.15">E</text>
<text transform="translate(192.23,527.80) scale(0.647,1)" font-size="50.15">M</text>
<text transform="translate(1139.12,439.10) scale(0.618,1)" font-size="49.13">S</text>
<text transform="translate(1160.59,439.10) scale(0.664,1)" font-size="49.13">A</text>
<text transform="translate(1185.83,439.10) scale(0.630,1)" font-size="49.13">F</text>
<text transform="translate(1206.68,439.10) scale(0.584,1)" font-size="49.13">E</text>
<text transform="translate(1239.18,438.70) scale(0.631,1)" font-size="46.08">A</text>
<text transform="translate(1261.02,438.70) scale(0.572,1)" font-size="46.08">G</text>
<text transform="translate(1282.64,438.70) scale(0.538,1)" font-size="46.08">E</text>
<text transform="translate(1300.62,438.70) scale(0.642,1)" font-size="46.08">N</text>
<text transform="translate(1322.76,438.70) scale(0.656,1)" font-size="46.08">T</text>
<text transform="translate(1173.56,483.80) scale(0.670,1)" font-size="50.29">A</text>
<text transform="translate(1198.85,483.80) scale(0.557,1)" font-size="50.29">C</text>
<text transform="translate(1221.26,483.80) scale(0.554,1)" font-size="50.29">C</text>
<text transform="translate(1243.39,483.80) scale(0.567,1)" font-size="50.29">E</text>
<text transform="translate(1264.00,483.80) scale(0.624,1)" font-size="50.29">S</text>
<text transform="translate(1286.40,483.80) scale(0.621,1)" font-size="50.29">S</text>
<text transform="translate(512.05,731.70) scale(0.697,1)" font-size="65.41">N</text>
<text transform="translate(547.11,731.70) scale(0.592,1)" font-size="65.41">O</text>
<text transform="translate(597.34,731.70) scale(0.615,1)" font-size="65.41">S</text>
<text transform="translate(626.66,731.70) scale(0.627,1)" font-size="65.41">H</text>
<text transform="translate(658.81,731.70) scale(0.557,1)" font-size="65.41">O</text>
<text transform="translate(691.08,731.70) scale(0.600,1)" font-size="65.41">R</text>
<text transform="translate(721.50,731.70) scale(0.680,1)" font-size="65.41">T</text>
<text transform="translate(750.09,731.70) scale(0.564,1)" font-size="65.41">C</text>
<text transform="translate(781.52,731.70) scale(0.580,1)" font-size="65.41">U</text>
<text transform="translate(810.90,731.70) scale(0.680,1)" font-size="65.41">T</text>
<text transform="translate(839.14,731.70) scale(0.618,1)" font-size="65.41">S</text>
</g>

<!-- STONES -->
<g id="stones" stroke="#1a1a1a" stroke-width="2.6" stroke-linejoin="round">
 <path fill="url(#hd)" d="M301.5,384.2 Q301.5,382.5 305.8,376.7 L312.7,367.5 Q317.0,361.7 324.0,355.9 L335.0,346.8 Q342.0,341.0 351.9,338.3 L367.6,334.2 Q377.5,331.5 393.8,330.0 L419.5,327.7 Q435.8,326.2 444.5,328.0 L458.3,330.7 Q467.0,332.5 475.7,336.6 L489.3,342.9 Q498.0,347.0 504.4,351.1 L514.6,357.6 Q521.0,361.7 522.2,365.1 L524.2,370.6 Q525.4,374.0 525.0,383.4 L524.4,398.1 Q524.0,407.5 520.3,415.7 L514.5,428.5 Q510.8,436.7 503.2,441.9 L491.3,450.2 Q483.7,455.4 480.1,457.2 L474.6,459.9 Q471.0,461.7 455.3,464.0 L430.7,467.7 Q415.0,470.0 403.2,468.8 L384.8,467.0 Q373.0,465.8 367.3,462.2 L358.2,456.6 Q352.5,453.0 347.8,448.4 L340.5,441.3 Q335.8,436.7 327.7,430.3 L314.8,420.1 Q306.7,413.7 305.2,406.7 L303.0,395.7 Q301.5,388.7 301.5,387.0 Z"/>
 <g clip-path="url(#sc0)" stroke="#2a2a2a" stroke-width="0.9" stroke-opacity="0.45" fill="none"><path d="M402.7,424.8 l8.8,-19.0 M402.6,455.8 l-5.3,-9.2 M408.0,430.5 l4.5,-9.6 M368.9,375.5 l5.0,-18.7 M444.0,428.5 l5.7,-12.3 M448.4,430.6 l5.1,-8.8 M488.8,372.6 l4.2,-7.4 M436.1,447.7 l-6.3,-10.9 M491.2,420.5 l7.2,-15.4 M301.0,374.9 l7.3,-15.6 M526.5,470.5 l5.1,-19.1 M357.7,445.6 l7.6,-13.1 M315.9,446.5 l7.8,-11.1 M387.7,466.6 l9.9,-17.2 M348.5,463.3 l3.7,-7.9 M522.5,407.7 l2.3,-8.7 M345.1,436.9 l7.3,-10.4 M375.5,467.2 l9.3,-16.1 M330.6,440.2 l3.4,-7.4 M480.9,384.7 l6.7,-14.3 M415.5,469.5 l7.9,-17.0 M446.1,378.2 l6.9,-12.0 M300.1,456.8 l-10.8,-18.7 M369.0,458.9 l4.6,-9.9 M526.1,429.2 l8.0,-13.9 M524.6,388.4 l-5.8,-10.1 M374.7,397.1 l4.5,-7.8 M347.4,432.8 l4.7,-6.7 M384.4,413.6 l9.1,-19.4 M488.9,380.3 l3.5,-12.9 M335.0,461.4 l9.7,-16.8 M464.7,382.6 l-8.4,-14.6 M344.6,465.8 l-10.2,-17.6 M317.8,371.0 l-4.8,-8.3 M518.5,391.0 l10.2,-14.6 M395.5,461.0 l-7.4,-12.9 M339.8,441.6 l4.5,-7.8 M408.8,434.6 l8.3,-14.4 M363.6,462.3 l5.4,-9.4 M315.7,409.2 l5.7,-9.9 M340.0,404.7 l8.0,-13.9 M320.9,380.5 l8.2,-11.7 M449.1,438.6 l8.1,-14.0 M433.9,463.0 l8.4,-12.0 M459.1,467.1 l2.1,-8.0 M317.0,373.1 l6.2,-10.7 M526.9,373.9 l4.0,-15.1 M310.1,464.3 l9.2,-15.9 M480.1,462.1 l3.3,-12.5 M407.4,374.2 l10.0,-17.3 M496.0,426.1 l7.1,-15.2 M386.1,367.3 l4.5,-7.8 M445.1,470.3 l5.3,-19.6 M374.9,464.1 l7.5,-16.1 M400.0,454.0 l-4.6,-7.9 M306.8,429.1 l7.4,-12.8 M517.3,377.9 l4.9,-18.3 M508.9,392.9 l4.7,-6.7 M332.5,430.2 l8.8,-12.5 M449.8,412.4 l11.7,-16.8 M391.9,392.3 l8.4,-14.6 M499.8,406.4 l9.3,-13.2 M347.6,380.1 l6.5,-11.2 M461.4,465.8 l5.9,-10.3 M325.6,415.5 l8.9,-19.0 M386.8,420.6 l4.5,-16.8 M490.5,469.1 l7.2,-12.4 M488.1,395.2 l4.3,-15.9 M460.9,425.9 l-6.2,-10.7 M304.3,380.3 l7.2,-12.4 M474.6,394.0 l9.5,-16.4 M523.4,378.1 l-4.8,-8.3 M448.7,450.8 l5.5,-20.7 M345.0,452.5 l3.0,-11.2 M302.4,415.6 l9.0,-15.6 M351.4,447.8 l-7.8,-13.5 M413.6,470.7 l2.6,-9.9 M505.7,375.2 l5.4,-20.3 M388.1,413.3 l5.4,-9.3 M385.5,425.7 l11.6,-16.6 M405.3,434.4 l2.8,-10.5 M496.6,449.8 l10.5,-18.1 M348.4,460.5 l12.5,-17.8 M421.9,449.0 l3.2,-12.1 M494.3,402.6 l3.9,-8.3 M377.6,410.2 l5.9,-10.3 M349.6,457.1 l7.0,-12.1 M339.2,401.2 l9.5,-16.5 M406.8,471.0 l-10.3,-17.8 M490.7,438.4 l9.0,-19.3 M431.4,438.4 l7.9,-16.9 M419.6,396.5 l4.7,-17.6 M337.3,420.0 l11.9,-17.0 M370.8,406.0 l-9.9,-17.2 M347.3,455.3 l-10.8,-18.7 M362.0,418.3 l6.9,-11.9 M414.2,429.5 l4.2,-7.3 M417.1,408.1 l-9.6,-16.6 M327.7,375.8 l-5.2,-9.0 M404.2,462.7 l8.1,-17.4 M361.1,415.7 l4.1,-8.9 M504.5,464.2 l-10.4,-18.1 M372.0,386.1 l9.6,-13.6 M329.4,447.8 l4.2,-7.2 M335.3,367.2 l3.1,-11.6 M380.7,431.1 l2.5,-9.1 M432.2,455.5 l4.3,-16.2 M344.9,421.7 l6.0,-12.8 M443.7,452.6 l-8.3,-14.4 M346.4,432.3 l-8.5,-14.7"/></g>
 <path fill="#f5f2e7" stroke-width="1.6" d="M301.5,384.2 Q301.5,382.5 305.8,376.7 L312.7,367.5 Q317.0,361.7 324.0,355.9 L335.0,346.8 Q342.0,341.0 351.9,338.3 L367.6,334.2 Q377.5,331.5 393.8,330.0 L419.5,327.7 Q435.8,326.2 444.5,328.0 L458.3,330.7 Q467.0,332.5 475.7,336.6 L489.3,342.9 Q498.0,347.0 504.4,351.1 L514.6,357.6 Q521.0,361.7 522.2,365.1 L524.2,370.6 Q525.4,374.0 522.5,381.0 L517.9,392.0 Q515.0,399.0 507.4,404.9 L495.6,414.1 Q488.0,420.0 482.1,423.8 L472.9,429.7 Q467.0,433.5 444.9,434.1 L410.1,435.0 Q388.0,435.6 379.8,434.7 L366.9,433.4 Q358.7,432.5 354.0,430.1 L346.7,426.4 Q342.0,424.0 333.9,419.4 L321.1,412.1 Q313.0,407.5 309.8,402.2 L304.7,394.0 Q301.5,388.7 301.5,387.0 Z"/>
 <path fill="url(#hd)" d="M553.3,375.8 Q562.0,363.0 580.1,358.3 L608.6,350.9 Q626.7,346.2 638.3,347.1 L656.7,348.5 Q668.3,349.4 680.5,360.8 L699.8,378.6 Q712.0,390.0 713.1,394.7 L714.9,402.0 Q716.0,406.7 714.9,418.9 L713.1,438.2 Q712.0,450.4 706.1,456.8 L696.9,466.9 Q691.0,473.3 663.6,479.1 L620.4,488.2 Q593.0,494.0 589.0,491.7 L582.7,488.1 Q578.7,485.8 564.1,478.8 L541.3,467.8 Q526.7,460.8 526.1,451.5 L525.2,436.8 Q524.6,427.5 526.3,422.2 L529.1,414.0 Q530.8,408.7 539.5,395.9 Z"/>
 <g clip-path="url(#sc1)" stroke="#2a2a2a" stroke-width="0.9" stroke-opacity="0.45" fill="none"><path d="M565.2,444.7 l8.1,-14.0 M568.4,466.5 l9.7,-16.8 M584.6,419.6 l10.5,-18.1 M674.8,406.4 l4.7,-8.1 M548.8,394.7 l5.7,-12.2 M685.3,431.4 l9.5,-16.5 M562.1,454.1 l9.6,-16.6 M562.2,460.1 l11.9,-17.0 M545.5,440.6 l-9.3,-16.1 M717.7,476.6 l8.1,-17.4 M543.7,389.1 l-7.9,-13.6 M699.5,437.9 l5.3,-9.2 M562.8,477.4 l5.7,-21.1 M541.6,391.8 l9.0,-19.3 M538.1,395.6 l5.7,-12.2 M623.5,432.3 l8.2,-14.2 M646.6,389.5 l4.6,-9.8 M611.5,466.3 l6.8,-11.8 M641.0,395.4 l11.0,-15.6 M697.2,473.2 l4.6,-17.3 M706.2,447.7 l-5.3,-9.2 M714.6,473.5 l5.8,-10.1 M668.2,470.6 l8.2,-17.6 M549.0,421.3 l8.9,-12.7 M672.6,469.2 l3.5,-13.2 M559.0,472.7 l6.1,-10.6 M525.1,424.1 l-8.5,-14.7 M532.7,415.0 l12.3,-17.6 M588.9,457.6 l-8.0,-13.8 M538.0,441.6 l7.5,-13.0 M659.7,468.8 l10.9,-18.8 M545.4,396.9 l4.8,-10.3 M601.3,390.6 l4.5,-9.7 M525.1,413.4 l6.8,-9.7 M630.3,440.9 l-10.8,-18.7 M688.0,396.0 l3.7,-13.7 M537.9,450.7 l9.3,-16.1 M598.4,488.2 l6.7,-11.6 M689.9,444.6 l6.9,-14.8 M707.3,431.3 l-7.7,-13.3 M583.9,443.3 l8.5,-12.1 M632.3,416.2 l10.3,-14.8 M528.2,470.0 l4.2,-15.6 M553.5,468.0 l7.7,-11.0 M668.9,390.5 l12.5,-17.9 M537.3,484.6 l5.9,-12.7 M571.9,468.1 l4.3,-7.5 M705.8,464.5 l7.3,-12.6 M640.7,397.7 l7.1,-15.2 M546.0,479.7 l6.5,-11.3 M547.2,433.7 l7.3,-15.7 M640.2,455.4 l10.1,-14.4 M674.7,443.4 l12.6,-18.0 M666.2,411.2 l5.5,-7.9 M675.9,453.7 l7.5,-10.7 M641.9,464.8 l8.9,-15.4 M646.5,467.9 l5.3,-9.2 M620.9,456.8 l2.8,-10.4 M530.7,391.7 l5.0,-10.7 M528.2,389.2 l6.4,-9.1 M537.1,394.5 l-8.7,-15.1 M568.8,493.0 l8.5,-12.1 M564.1,422.8 l9.2,-16.0 M679.4,434.2 l9.8,-16.9 M609.6,467.2 l6.7,-11.7 M594.9,456.9 l12.5,-17.9 M579.7,468.5 l9.8,-16.9 M606.4,425.6 l5.4,-7.7 M538.3,394.1 l6.7,-14.4 M682.0,436.0 l9.8,-16.9 M537.8,408.5 l8.6,-15.0 M658.5,439.4 l10.7,-15.3 M578.2,400.7 l3.4,-12.6 M586.8,484.7 l5.3,-11.3 M634.0,486.0 l12.1,-17.3 M608.4,473.3 l7.0,-10.0 M566.1,491.5 l-9.1,-15.8 M571.4,424.8 l7.5,-10.7 M655.0,449.3 l5.0,-18.5 M632.9,472.7 l-7.8,-13.5 M632.7,404.4 l10.7,-15.3 M681.3,409.3 l4.4,-7.6 M633.7,491.3 l7.2,-15.5 M535.5,445.1 l9.5,-16.5 M588.2,415.1 l5.4,-7.8 M539.5,454.8 l2.6,-9.7 M682.2,431.4 l7.6,-16.3 M672.2,442.4 l7.9,-17.0 M591.3,473.8 l6.3,-11.0 M619.3,444.1 l4.7,-17.5 M643.5,390.1 l4.8,-18.0 M591.1,385.4 l6.6,-11.5 M696.3,490.4 l-8.5,-14.7 M593.6,386.1 l4.0,-8.6 M701.5,412.0 l2.7,-9.9 M596.2,403.4 l4.6,-9.8 M626.2,415.1 l8.6,-18.5 M583.1,397.6 l8.5,-14.8 M700.9,467.8 l3.5,-7.5 M700.3,389.0 l4.8,-8.2 M593.1,449.7 l6.9,-14.9 M639.0,409.6 l6.1,-8.7 M601.5,485.2 l5.5,-20.4 M629.9,474.9 l8.4,-12.1 M617.5,429.3 l5.5,-20.7 M629.7,490.3 l7.4,-12.8 M600.9,408.9 l4.2,-9.0 M713.3,472.4 l9.4,-16.3 M651.2,411.1 l3.4,-7.4 M699.5,434.5 l4.8,-10.4"/></g>
 <path fill="#f5f2e7" stroke-width="1.6" d="M553.3,375.8 Q562.0,363.0 580.1,358.3 L608.6,350.9 Q626.7,346.2 638.3,347.1 L656.7,348.5 Q668.3,349.4 680.5,360.8 L699.8,378.6 Q712.0,390.0 713.1,394.7 L714.9,402.0 Q716.0,406.7 715.4,412.5 L714.6,421.7 Q714.0,427.5 708.1,432.7 L698.9,440.8 Q693.0,446.0 670.9,450.8 L636.1,458.2 Q614.0,463.0 601.1,461.2 L580.9,458.5 Q568.0,456.7 564.6,453.1 L559.2,447.6 Q555.8,444.0 547.1,439.4 L533.3,432.1 Q524.6,427.5 526.3,422.2 L529.1,414.0 Q530.8,408.7 539.5,395.9 Z"/>
 <path fill="url(#hd)" d="M742.9,370.7 Q746.0,365.4 758.7,362.0 L778.7,356.7 Q791.4,353.3 806.3,352.0 L829.6,350.1 Q844.5,348.8 855.6,353.8 L873.2,361.5 Q884.3,366.5 891.1,378.9 L901.8,398.4 Q908.6,410.8 908.0,425.7 L907.0,449.0 Q906.4,463.9 899.0,472.0 L887.3,484.6 Q879.9,492.7 854.4,493.9 L814.5,495.8 Q789.0,497.0 777.9,489.6 L760.4,477.9 Q749.3,470.5 745.3,457.5 L739.0,437.0 Q735.0,424.0 735.0,412.9 L735.0,395.3 Q735.0,384.2 738.1,378.9 Z"/>
 <g clip-path="url(#sc2)" stroke="#2a2a2a" stroke-width="0.9" stroke-opacity="0.45" fill="none"><path d="M840.3,405.3 l5.8,-8.4 M758.6,487.9 l9.7,-16.7 M845.7,497.2 l-5.9,-10.2 M742.4,450.9 l5.2,-9.1 M878.4,481.1 l9.8,-16.9 M795.3,455.6 l6.5,-13.9 M855.8,397.1 l-9.2,-16.0 M884.8,421.4 l8.1,-17.3 M767.2,463.0 l8.0,-17.2 M769.9,447.8 l7.7,-13.3 M900.5,494.0 l5.3,-11.3 M746.5,421.6 l3.8,-14.0 M744.9,396.2 l2.6,-9.6 M802.8,438.8 l10.8,-18.7 M848.7,389.4 l3.4,-12.8 M817.1,420.3 l4.8,-8.3 M884.5,480.9 l-9.0,-15.6 M759.9,457.1 l5.5,-20.4 M785.8,425.1 l3.5,-13.0 M748.4,408.8 l6.6,-11.5 M791.3,492.0 l4.1,-15.3 M846.3,437.2 l6.7,-11.6 M757.9,398.4 l4.5,-16.9 M764.7,409.2 l3.6,-7.7 M837.9,397.9 l5.6,-9.7 M907.8,435.7 l10.8,-15.4 M895.9,435.0 l3.9,-14.6 M769.4,404.3 l7.5,-16.0 M791.7,433.3 l3.5,-7.4 M841.5,422.9 l9.5,-16.5 M849.9,454.9 l4.7,-6.8 M766.4,421.7 l-7.1,-12.3 M799.8,444.0 l9.5,-16.5 M841.2,405.4 l10.7,-15.3 M830.0,426.8 l7.5,-13.0 M834.6,409.8 l5.5,-20.4 M858.1,491.0 l8.0,-13.8 M844.0,409.8 l4.6,-7.9 M817.6,433.9 l6.3,-11.0 M897.4,427.7 l7.2,-12.5 M813.1,468.3 l-5.7,-9.8 M829.2,449.7 l9.1,-13.0 M762.8,470.0 l11.8,-16.8 M839.5,401.5 l11.2,-16.0 M854.3,428.0 l10.7,-15.2 M880.0,408.4 l7.8,-13.6 M813.4,432.4 l4.9,-18.3 M757.5,471.2 l8.4,-18.0 M841.9,458.4 l9.3,-16.2 M768.3,439.5 l4.2,-9.1 M753.9,432.6 l6.4,-11.0 M779.7,450.5 l3.3,-12.2 M871.8,467.4 l8.0,-17.2 M902.8,454.0 l6.2,-13.2 M891.7,488.4 l6.7,-14.4 M866.1,441.4 l5.7,-21.2 M805.4,435.7 l-8.0,-13.8 M791.5,445.3 l6.9,-12.0 M789.8,394.0 l7.7,-16.5 M862.6,453.7 l10.6,-15.2 M889.2,484.5 l4.8,-10.4 M775.9,484.0 l9.1,-19.6 M856.0,445.9 l6.5,-9.3 M849.3,491.4 l5.3,-19.6 M904.1,461.2 l8.5,-18.2 M832.8,406.1 l7.2,-15.5 M833.3,487.4 l4.7,-8.1 M754.9,447.1 l10.7,-18.5 M785.4,468.1 l4.2,-7.2 M744.1,486.5 l8.2,-17.6 M758.0,464.2 l6.4,-9.2 M738.5,486.8 l5.2,-11.2 M758.4,473.4 l9.4,-16.3 M768.9,482.5 l8.8,-15.3 M767.6,480.2 l5.5,-11.7 M735.8,457.9 l-8.9,-15.4 M768.8,457.6 l5.3,-9.3 M848.1,421.7 l11.2,-15.9 M886.9,466.4 l2.6,-9.6 M902.4,473.7 l6.9,-12.0 M772.5,421.8 l9.0,-15.5 M780.6,467.2 l8.6,-12.3 M872.9,429.0 l8.6,-15.0 M837.4,413.2 l6.1,-10.6 M851.1,418.5 l8.5,-14.7 M814.9,396.4 l10.4,-18.0 M827.0,393.0 l9.4,-13.4 M828.1,434.6 l8.0,-13.8 M783.5,471.1 l6.6,-9.4 M863.0,391.2 l9.5,-16.5 M907.8,391.7 l-7.2,-12.5 M801.1,490.2 l7.5,-13.0 M744.3,473.4 l11.9,-17.0 M849.5,474.1 l-7.6,-13.2 M879.4,457.8 l5.6,-21.0 M901.4,407.1 l9.5,-16.4 M752.8,435.9 l-8.7,-15.0 M869.8,474.5 l9.5,-16.5 M779.0,447.9 l-10.0,-17.3 M821.3,391.9 l4.2,-15.8 M742.3,437.3 l11.7,-16.7 M759.9,390.0 l6.3,-13.5 M822.2,467.5 l10.0,-17.3 M745.8,487.8 l-8.0,-13.8 M835.6,467.4 l8.4,-14.5 M788.0,392.7 l-6.2,-10.7 M863.7,473.9 l7.9,-17.0 M748.7,478.3 l6.0,-8.5 M776.9,442.7 l-8.6,-14.9 M872.2,394.7 l7.9,-11.3"/></g>
 <path fill="#f5f2e7" stroke-width="1.6" d="M742.9,370.7 Q746.0,365.4 758.7,362.0 L778.7,356.7 Q791.4,353.3 806.3,352.0 L829.6,350.1 Q844.5,348.8 855.6,353.8 L873.2,361.5 Q884.3,366.5 891.1,378.9 L901.8,398.4 Q908.6,410.8 908.6,414.5 L908.6,420.3 Q908.6,424.0 899.9,433.2 L886.4,447.8 Q877.7,457.0 854.2,459.5 L817.1,463.5 Q793.6,466.0 791.8,464.2 L788.8,461.3 Q787.0,459.5 777.1,453.9 L761.4,445.2 Q751.5,439.6 746.9,424.1 L739.6,399.7 Q735.0,384.2 738.1,378.9 Z"/>
 <path fill="url(#hd)" d="M926.6,343.3 Q930.5,338.0 949.5,332.8 L979.4,324.6 Q998.4,319.4 1010.2,321.4 L1028.8,324.4 Q1040.6,326.4 1052.4,334.9 L1071.0,348.4 Q1082.8,356.9 1088.0,363.5 L1096.3,373.7 Q1101.5,380.3 1100.9,389.5 L1099.8,403.8 Q1099.2,413.0 1091.3,424.2 L1078.9,441.8 Q1071.0,453.0 1066.4,458.9 L1059.2,468.1 Q1054.6,474.0 1041.5,475.7 L1020.9,478.2 Q1007.8,479.9 994.7,478.2 L974.1,475.7 Q961.0,474.0 953.7,466.1 L942.3,453.8 Q935.0,445.9 929.5,430.8 L920.7,407.1 Q915.2,392.0 915.5,382.2 L916.1,366.7 Q916.4,356.9 920.3,351.6 Z"/>
 <g clip-path="url(#sc3)" stroke="#2a2a2a" stroke-width="0.9" stroke-opacity="0.45" fill="none"><path d="M1046.0,444.6 l10.7,-18.5 M1006.5,451.6 l10.9,-18.9 M1054.7,422.2 l10.9,-18.9 M959.5,467.5 l4.2,-9.0 M1019.1,416.0 l10.5,-18.3 M1042.5,446.2 l-10.8,-18.8 M957.4,389.1 l7.9,-13.6 M993.1,368.6 l6.4,-9.2 M977.7,478.7 l8.3,-14.3 M944.3,430.0 l5.7,-21.2 M978.9,443.4 l-10.1,-17.4 M1088.6,379.8 l10.0,-17.4 M986.0,454.1 l6.3,-9.0 M960.6,455.6 l8.1,-17.5 M952.5,384.4 l8.3,-11.9 M1003.3,418.3 l8.4,-14.5 M1077.1,383.2 l6.7,-11.6 M922.9,392.0 l-10.6,-18.4 M917.5,380.4 l4.9,-10.6 M1021.2,437.9 l5.5,-9.6 M982.2,376.9 l12.1,-17.3 M939.9,387.6 l9.9,-17.1 M917.9,397.6 l6.7,-11.6 M1075.5,404.9 l-5.8,-10.0 M1040.5,395.2 l7.0,-15.0 M921.7,376.6 l8.2,-14.1 M953.4,408.5 l3.8,-14.2 M939.7,444.9 l3.0,-11.2 M999.4,404.4 l11.7,-16.6 M1015.1,413.3 l-5.0,-8.6 M1077.7,385.8 l6.9,-9.9 M1029.5,375.3 l5.1,-19.2 M1033.1,427.6 l5.0,-18.7 M970.3,440.5 l10.4,-18.1 M1019.5,401.5 l5.6,-8.0 M958.3,435.8 l3.9,-8.4 M936.6,418.6 l8.5,-12.2 M967.8,444.5 l4.7,-10.1 M952.2,452.5 l3.3,-12.5 M959.3,369.4 l5.4,-11.6 M1066.0,416.8 l-5.8,-10.0 M972.3,470.5 l10.3,-17.9 M982.9,365.7 l6.8,-11.8 M985.3,462.2 l3.2,-11.8 M975.5,389.2 l4.8,-6.8 M975.1,403.9 l3.1,-11.7 M1081.7,437.0 l7.7,-11.0 M1094.4,402.6 l8.0,-13.9 M1059.8,435.2 l7.1,-15.1 M1029.8,365.8 l3.8,-8.1 M1080.3,405.0 l10.4,-18.0 M1065.9,442.1 l5.0,-10.7 M982.1,478.2 l5.0,-8.7 M965.0,389.8 l-5.5,-9.6 M914.2,424.9 l6.8,-11.7 M1017.4,462.4 l9.4,-16.2 M1032.0,427.0 l11.3,-16.1 M963.9,370.8 l2.1,-8.0 M953.3,406.7 l5.1,-8.8 M1069.8,377.6 l7.1,-15.1 M1066.1,394.1 l7.9,-11.3 M1055.6,423.7 l5.7,-9.8 M982.5,444.9 l5.4,-20.1 M937.8,365.8 l4.5,-7.8 M1081.4,396.2 l-9.9,-17.2 M1059.9,417.1 l4.3,-9.3 M1078.4,364.6 l-5.8,-10.0 M1053.8,443.3 l3.0,-11.1 M961.6,446.0 l7.2,-10.3 M1075.8,383.2 l7.9,-13.8 M1021.3,409.7 l-8.9,-15.5 M1053.9,391.1 l5.1,-8.9 M985.2,440.3 l5.6,-9.7 M1098.1,416.0 l8.9,-15.3 M964.7,391.3 l3.0,-11.1 M989.0,472.8 l10.9,-18.9 M943.7,480.7 l10.1,-17.5 M968.1,447.9 l11.0,-19.0 M990.5,469.3 l8.3,-17.8 M946.4,366.3 l3.7,-13.7 M967.6,406.2 l8.3,-14.4 M1099.4,405.9 l-8.9,-15.3 M967.4,464.6 l7.1,-12.3 M1019.1,468.3 l8.6,-18.4 M936.7,397.8 l-4.1,-7.2 M1021.5,391.7 l7.8,-11.1 M957.0,417.3 l7.5,-10.7 M1019.6,376.6 l4.6,-6.6 M1040.7,358.5 l6.4,-11.0 M1102.5,382.9 l8.5,-18.3 M920.1,401.2 l-7.9,-13.7 M924.9,425.7 l-8.6,-14.9 M961.7,381.2 l6.0,-10.5 M1101.9,412.5 l5.1,-19.0 M922.9,463.4 l-10.6,-18.4 M936.4,367.2 l-6.5,-11.3 M972.6,421.3 l4.1,-7.1 M926.0,402.8 l10.7,-15.3 M1067.1,455.5 l7.7,-16.6 M972.2,423.4 l8.7,-15.0 M1090.9,417.3 l8.4,-17.9 M961.3,469.9 l-4.2,-7.2 M940.6,397.8 l-9.1,-15.7 M1038.2,457.7 l3.4,-12.7 M999.0,396.4 l2.3,-8.6 M974.8,369.6 l3.3,-12.3 M948.0,363.8 l5.6,-8.1 M1042.6,379.8 l4.7,-8.2 M984.5,380.4 l3.5,-7.5 M1009.0,407.6 l-6.3,-10.8"/></g>
 <path fill="#f5f2e7" stroke-width="1.6" d="M926.6,343.3 Q930.5,338.0 949.5,332.8 L979.4,324.6 Q998.4,319.4 1010.2,321.4 L1028.8,324.4 Q1040.6,326.4 1052.4,334.9 L1071.0,348.4 Q1082.8,356.9 1088.0,363.5 L1096.3,373.7 Q1101.5,380.3 1100.9,386.2 L1099.8,395.5 Q1099.2,401.4 1090.7,408.6 L1077.2,419.8 Q1068.7,427.0 1054.2,429.4 L1031.5,433.0 Q1017.0,435.4 1003.3,434.4 L981.7,432.8 Q968.0,431.8 960.7,427.9 L949.3,421.7 Q942.0,417.8 934.8,406.0 L923.6,387.4 Q916.4,375.6 916.4,370.4 L916.4,362.1 Q916.4,356.9 920.3,351.6 Z"/>
</g>


<!-- STONE FACETS -->
<g stroke="#222" stroke-width="1.3" fill="none" stroke-linecap="round">
 <path d="M358.7,432.5 L369,465.8 M471,433.5 L471,461.7"/>
 <path d="M568,456.7 L578.7,485.8 M693,446 L691,473.3"/>
 <path d="M793.6,466 L789,497 M877.7,457 L879.9,492.7"/>
 <path d="M968,431.8 L961,474 M1068.7,427 L1054.6,474"/>
</g>
<g stroke="none">
 <path d="M471,433.5 L488,420 515,399 524,407.5 510.8,436.7 483.7,455.4 471,461.7Z" fill="url(#hd2)"/>
 <path d="M693,446 L714,427.5 712,450.4 691,473.3Z" fill="url(#hd2)"/>
 <path d="M877.7,457 L908.6,424 906.4,463.9 879.9,492.7Z" fill="url(#hd2)"/>
 <path d="M1068.7,427 L1099.2,401.4 1099.2,413 1071,453 1054.6,474Z" fill="url(#hd2)"/>
 <path d="M968,431.8 L1017,435.4 1068.7,427 1054.6,474 1007.8,479.9 961,474Z" fill="url(#hd2)" opacity="0.6"/>
</g>
<g stroke="#777" stroke-width="0.8" fill="none" stroke-linecap="round">
 <path d="M340,350 C380,338 420,336 450,340 M470,348 C490,355 505,362 512,372 M320,395 C330,405 340,412 350,418 M380,430 l6,-4 4,3 5,-4 M455,352 l20,4"/>
 <path d="M570,372 C600,360 640,356 660,360 M680,380 C695,390 702,400 705,410 M560,440 C580,450 610,455 650,450"/>
 <path d="M760,372 C790,362 830,358 860,365 M880,380 C892,395 900,410 902,420 M800,455 C830,450 860,445 880,440"/>
 <path d="M950,340 C980,328 1020,326 1050,338 M1060,352 C1080,365 1090,378 1092,390 M930,360 C935,375 940,390 948,405 M980,425 C1010,428 1040,425 1065,418"/>
</g>

<!-- STONE TEXT -->
<g id="stonetext" font-family="Liberation Sans, sans-serif" fill="#111" stroke="#111" stroke-linejoin="round">
<text transform="translate(332.15,382.50) scale(0.590,1)" font-size="28.0" font-weight="bold" stroke-width="0.9" letter-spacing="2.205">1. CHARACTERIZE</text>
<text transform="translate(346.80,404.40) scale(0.811,1)" font-size="19.5" font-weight="normal" stroke-width="1.0" letter-spacing="0.740">(capture behavior)</text>
<text transform="translate(560.45,400.40) scale(0.684,1)" font-size="25.5" font-weight="bold" stroke-width="0.9" letter-spacing="1.902">2. DUAL RUN</text>
<text transform="translate(541.75,422.80) scale(0.804,1)" font-size="19.5" font-weight="normal" stroke-width="1.0" letter-spacing="0.746">(parallel comparison)</text>
<text transform="translate(751.95,402.00) scale(0.624,1)" font-size="27.3" font-weight="bold" stroke-width="0.9" letter-spacing="2.083">3. CONTRACT</text>
<text transform="translate(756.50,422.80) scale(0.790,1)" font-size="19.8" font-weight="normal" stroke-width="1.0" letter-spacing="0.760">(lock boundaries)</text>
<text transform="translate(940.25,380.30) scale(0.642,1)" font-size="27.0" font-weight="bold" stroke-width="0.9" letter-spacing="2.025">4. GRADUATE</text>
<text transform="translate(949.70,401.50) scale(0.788,1)" font-size="19.5" font-weight="normal" stroke-width="1.0" letter-spacing="0.762">(earned access)</text>
</g>

<!-- RIVER LABELS -->
<g font-family="Liberation Sans, sans-serif" font-weight="normal" fill="#f7f4e9" stroke="#f7f4e9" stroke-width="7" stroke-linejoin="round">
 <text transform="translate(355,589) rotate(-30.3) scale(0.770,1)" font-size="28" letter-spacing="1.169">PERMISSIONS</text>
 <text transform="translate(555,618) rotate(-28.6) scale(0.782,1)" font-size="28" letter-spacing="1.150">DEPENDENCIES</text>
 <text transform="translate(922,517) rotate(40) scale(0.873,1)" font-size="28" letter-spacing="1.031">IMPLICIT RULES</text>
</g>
<g font-family="Liberation Sans, sans-serif" font-weight="normal" fill="#464644" stroke="#464644" stroke-width="1.25" stroke-linejoin="round">
 <text transform="translate(355,589) rotate(-30.3) scale(0.770,1)" font-size="28" letter-spacing="1.169">PERMISSIONS</text>
 <text transform="translate(555,618) rotate(-28.6) scale(0.782,1)" font-size="28" letter-spacing="1.150">DEPENDENCIES</text>
 <text transform="translate(922,517) rotate(40) scale(0.873,1)" font-size="28" letter-spacing="1.031">IMPLICIT RULES</text>
</g>
</svg>
</body></html>
